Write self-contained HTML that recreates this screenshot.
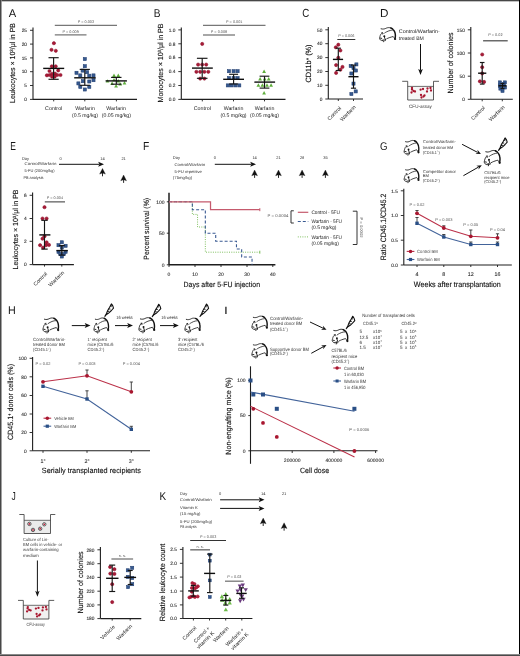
<!DOCTYPE html>
<html><head><meta charset="utf-8"><style>
html,body{margin:0;padding:0;background:#fff;width:520px;height:656px;overflow:hidden;}
svg{display:block;will-change:transform;}
text{font-family:"Liberation Sans",sans-serif;text-rendering:geometricPrecision;}
</style></head><body>
<svg width="520" height="656" viewBox="0 0 520 656">
<rect width="520" height="656" fill="#fff"/>
<defs>
<g id="mouse">
<g fill="none" stroke="#111" stroke-linecap="round" stroke-linejoin="round">
<path d="M2.0,1.9 C3.0,2.2 3.8,2.2 4.4,2.1 C5.2,2.0 5.7,1.8 6.3,1.55 C7.0,1.2 7.6,0.9 8.2,0.78 C8.9,0.62 9.5,0.62 10.1,0.7 C10.7,0.8 11.2,0.95 11.7,1.16" stroke-width="0.85"/>
<path d="M11.2,0.95 C12.3,1.4 13.1,2.0 13.6,2.7 C14.2,3.4 14.5,4.0 14.8,4.6 C15.2,5.4 15.4,6.1 15.5,6.9 C15.65,7.7 15.7,8.4 15.7,9.2 C15.7,9.9 15.6,10.6 15.5,11.4" stroke-width="1.4"/>
<path d="M5.5,6.2 C6.1,5.7 6.8,5.3 7.4,5.0 C8.1,4.6 8.8,4.3 9.4,4.05 C10.0,3.8 10.7,3.6 11.3,3.5 C11.8,3.4 12.3,3.3 12.8,3.3" stroke-width="0.75"/>
<path d="M3.4,6.1 C2.7,6.6 2.1,7.1 1.7,7.7 C1.3,8.4 1.1,9.2 0.9,10.0 C0.7,10.7 0.5,11.3 0.5,11.9 C0.6,12.6 0.9,13.1 1.3,13.5 C1.8,13.9 2.3,14.05 2.8,14.05" stroke-width="0.8"/>
<path d="M2.4,6.0 C3.0,5.7 3.7,6.0 4.0,6.6 C4.2,7.1 3.8,7.4 3.3,7.3" stroke-width="0.7"/>
<path d="M7.4,12.3 C8.2,11.9 9.0,11.5 9.75,11.2 C10.5,10.9 11.3,10.6 12.1,10.4 C12.6,10.2 13.1,10.1 13.6,10.0 C14.1,10.6 14.5,11.2 14.8,11.9" stroke-width="0.8"/>
<path d="M5.1,10.4 L5.9,12.7 M4.8,13.2 L4.5,15.4 M6.2,13.0 L5.9,14.3 M3.6,13.6 L3.4,14.4 M1.2,11.6 L2.6,11.9" stroke-width="0.9"/>
</g>
<circle cx="5.1" cy="9.6" r="0.95" fill="#111"/>
<circle cx="15.4" cy="12.5" r="1.1" fill="#111"/>
</g>
<g id="syr">
<path d="M0,0 L1.6,-2.8 L2.8,-5.8 L4.6,-8.8 L6.5,-12.4 L7.9,-10.4 L8.6,-8.1 L6.5,-5.8 L4.0,-3.4 L1.6,-1.8 Z" fill="none" stroke="#111" stroke-width="1.1" stroke-linejoin="round"/>
<path d="M0,0 L1.6,-2.8 L4.0,-3.4 L1.6,-1.8 Z" fill="#111"/>
<path d="M2.4,-4.8 L4.4,-5.0 M3.6,-7.4 L5.6,-7.2 M5.4,-10.2 L6.8,-9.6" stroke="#111" stroke-width="0.9"/>
<circle cx="6.6" cy="-11.6" r="0.75" fill="#111"/>
</g>
</defs>
<text transform="translate(8.78,16.90) scale(0.997,1)" font-size="11.19" fill="#161616">A</text>
<line x1="33.00" y1="27.50" x2="33.00" y2="99.40" stroke="#1e1e1e" stroke-width="1.1"/>
<line x1="30.00" y1="30.30" x2="33.00" y2="30.30" stroke="#1e1e1e" stroke-width="0.9"/>
<text transform="translate(27.00,30.30) scale(0.25)" y="6.91" font-size="19.20" fill="#2e2e2e" text-anchor="end" stroke="#2e2e2e" stroke-width="0.40">25</text>
<line x1="30.00" y1="44.10" x2="33.00" y2="44.10" stroke="#1e1e1e" stroke-width="0.9"/>
<text transform="translate(27.00,44.10) scale(0.25)" y="6.91" font-size="19.20" fill="#2e2e2e" text-anchor="end" stroke="#2e2e2e" stroke-width="0.40">20</text>
<line x1="30.00" y1="57.90" x2="33.00" y2="57.90" stroke="#1e1e1e" stroke-width="0.9"/>
<text transform="translate(27.00,57.90) scale(0.25)" y="6.91" font-size="19.20" fill="#2e2e2e" text-anchor="end" stroke="#2e2e2e" stroke-width="0.40">15</text>
<line x1="30.00" y1="71.70" x2="33.00" y2="71.70" stroke="#1e1e1e" stroke-width="0.9"/>
<text transform="translate(27.00,71.70) scale(0.25)" y="6.91" font-size="19.20" fill="#2e2e2e" text-anchor="end" stroke="#2e2e2e" stroke-width="0.40">10</text>
<line x1="30.00" y1="85.50" x2="33.00" y2="85.50" stroke="#1e1e1e" stroke-width="0.9"/>
<text transform="translate(27.00,85.50) scale(0.25)" y="6.91" font-size="19.20" fill="#2e2e2e" text-anchor="end" stroke="#2e2e2e" stroke-width="0.40">5</text>
<line x1="30.00" y1="99.40" x2="33.00" y2="99.40" stroke="#1e1e1e" stroke-width="0.9"/>
<text transform="translate(27.00,99.40) scale(0.25)" y="6.91" font-size="19.20" fill="#2e2e2e" text-anchor="end" stroke="#2e2e2e" stroke-width="0.40">0</text>
<line x1="33.00" y1="99.40" x2="137.00" y2="99.40" stroke="#1e1e1e" stroke-width="1.1"/>
<line x1="53.70" y1="99.40" x2="53.70" y2="101.40" stroke="#1e1e1e" stroke-width="0.9"/>
<line x1="84.80" y1="99.40" x2="84.80" y2="101.40" stroke="#1e1e1e" stroke-width="0.9"/>
<line x1="116.40" y1="99.40" x2="116.40" y2="101.40" stroke="#1e1e1e" stroke-width="0.9"/>
<text transform="translate(12.80,63.00) rotate(-90) scale(0.25)" y="10.66" font-size="29.60" fill="#111" text-anchor="middle" textLength="320.00" lengthAdjust="spacingAndGlyphs" stroke="#111" stroke-width="0.48">Leukocytes × 10<tspan dy="-8.80" font-size="18.00">3</tspan><tspan dy="8.80">/μl in PB</tspan></text>
<text transform="translate(53.70,108.20) rotate(0.03) scale(0.25)" y="7.63" font-size="21.20" fill="#222" text-anchor="middle" textLength="68.80" lengthAdjust="spacingAndGlyphs">Control</text>
<text transform="translate(85.00,108.20) rotate(0.03) scale(0.25)" y="7.63" font-size="21.20" fill="#222" text-anchor="middle" textLength="78.80" lengthAdjust="spacingAndGlyphs">Warfarin</text>
<text transform="translate(85.00,114.60) rotate(0.03) scale(0.25)" y="7.63" font-size="21.20" fill="#222" text-anchor="middle" textLength="104.40" lengthAdjust="spacingAndGlyphs">(0.5 mg/kg)</text>
<text transform="translate(116.20,108.20) rotate(0.03) scale(0.25)" y="7.63" font-size="21.20" fill="#222" text-anchor="middle" textLength="78.80" lengthAdjust="spacingAndGlyphs">Warfarin</text>
<text transform="translate(116.40,114.60) rotate(0.03) scale(0.25)" y="7.63" font-size="21.20" fill="#222" text-anchor="middle" textLength="116.80" lengthAdjust="spacingAndGlyphs">(0.05 mg/kg)</text>
<line x1="54.80" y1="34.80" x2="86.50" y2="34.80" stroke="#777" stroke-width="1.3"/>
<text transform="translate(70.65,31.60) rotate(0.03) scale(0.25)" y="5.47" font-size="15.20" fill="#585858" text-anchor="middle">P = 0.009</text>
<line x1="54.80" y1="25.30" x2="117.00" y2="25.30" stroke="#777" stroke-width="1.3"/>
<text transform="translate(85.90,22.00) rotate(0.03) scale(0.25)" y="5.47" font-size="15.20" fill="#585858" text-anchor="middle">P = 0.003</text>
<circle cx="53.90" cy="43.20" r="1.60" fill="#a81b38" stroke="#8c0b25" stroke-width="0.55"/>
<circle cx="51.50" cy="49.80" r="1.60" fill="#a81b38" stroke="#8c0b25" stroke-width="0.55"/>
<circle cx="55.80" cy="50.80" r="1.60" fill="#a81b38" stroke="#8c0b25" stroke-width="0.55"/>
<circle cx="51.80" cy="66.30" r="1.60" fill="#a81b38" stroke="#8c0b25" stroke-width="0.55"/>
<circle cx="55.70" cy="66.30" r="1.60" fill="#a81b38" stroke="#8c0b25" stroke-width="0.55"/>
<circle cx="49.50" cy="71.00" r="1.60" fill="#a81b38" stroke="#8c0b25" stroke-width="0.55"/>
<circle cx="58.20" cy="70.40" r="1.60" fill="#a81b38" stroke="#8c0b25" stroke-width="0.55"/>
<circle cx="46.90" cy="75.30" r="1.60" fill="#a81b38" stroke="#8c0b25" stroke-width="0.55"/>
<circle cx="49.50" cy="75.00" r="1.60" fill="#a81b38" stroke="#8c0b25" stroke-width="0.55"/>
<circle cx="52.10" cy="73.80" r="1.60" fill="#a81b38" stroke="#8c0b25" stroke-width="0.55"/>
<circle cx="55.00" cy="73.60" r="1.60" fill="#a81b38" stroke="#8c0b25" stroke-width="0.55"/>
<circle cx="52.10" cy="76.70" r="1.60" fill="#a81b38" stroke="#8c0b25" stroke-width="0.55"/>
<circle cx="54.70" cy="76.70" r="1.60" fill="#a81b38" stroke="#8c0b25" stroke-width="0.55"/>
<circle cx="57.30" cy="75.00" r="1.60" fill="#a81b38" stroke="#8c0b25" stroke-width="0.55"/>
<circle cx="60.50" cy="75.00" r="1.60" fill="#a81b38" stroke="#8c0b25" stroke-width="0.55"/>
<rect x="83.25" y="57.50" width="3.10" height="3.10" fill="#36598f" stroke="#1f3d70" stroke-width="0.55"/>
<rect x="83.25" y="64.65" width="3.10" height="3.10" fill="#36598f" stroke="#1f3d70" stroke-width="0.55"/>
<rect x="81.05" y="69.05" width="3.10" height="3.10" fill="#36598f" stroke="#1f3d70" stroke-width="0.55"/>
<rect x="85.55" y="70.65" width="3.10" height="3.10" fill="#36598f" stroke="#1f3d70" stroke-width="0.55"/>
<rect x="74.95" y="71.25" width="3.10" height="3.10" fill="#36598f" stroke="#1f3d70" stroke-width="0.55"/>
<rect x="78.75" y="73.85" width="3.10" height="3.10" fill="#36598f" stroke="#1f3d70" stroke-width="0.55"/>
<rect x="87.75" y="74.15" width="3.10" height="3.10" fill="#36598f" stroke="#1f3d70" stroke-width="0.55"/>
<rect x="91.95" y="73.85" width="3.10" height="3.10" fill="#36598f" stroke="#1f3d70" stroke-width="0.55"/>
<rect x="91.95" y="78.65" width="3.10" height="3.10" fill="#36598f" stroke="#1f3d70" stroke-width="0.55"/>
<rect x="81.35" y="79.65" width="3.10" height="3.10" fill="#36598f" stroke="#1f3d70" stroke-width="0.55"/>
<rect x="87.75" y="79.95" width="3.10" height="3.10" fill="#36598f" stroke="#1f3d70" stroke-width="0.55"/>
<rect x="76.85" y="81.85" width="3.10" height="3.10" fill="#36598f" stroke="#1f3d70" stroke-width="0.55"/>
<rect x="78.75" y="85.35" width="3.10" height="3.10" fill="#36598f" stroke="#1f3d70" stroke-width="0.55"/>
<rect x="87.75" y="85.35" width="3.10" height="3.10" fill="#36598f" stroke="#1f3d70" stroke-width="0.55"/>
<rect x="83.25" y="87.95" width="3.10" height="3.10" fill="#36598f" stroke="#1f3d70" stroke-width="0.55"/>
<path d="M114.00,73.59 L115.90,77.01 L112.10,77.01Z" fill="#5fae3c"/>
<path d="M118.30,73.59 L120.20,77.01 L116.40,77.01Z" fill="#5fae3c"/>
<path d="M114.00,77.89 L115.90,81.31 L112.10,81.31Z" fill="#5fae3c"/>
<path d="M118.30,78.99 L120.20,82.41 L116.40,82.41Z" fill="#5fae3c"/>
<path d="M107.50,79.19 L109.40,82.61 L105.60,82.61Z" fill="#5fae3c"/>
<path d="M112.10,81.59 L114.00,85.01 L110.20,85.01Z" fill="#5fae3c"/>
<path d="M120.20,82.19 L122.10,85.61 L118.30,85.61Z" fill="#5fae3c"/>
<path d="M124.50,81.09 L126.40,84.51 L122.60,84.51Z" fill="#5fae3c"/>
<path d="M116.10,84.09 L118.00,87.51 L114.20,87.51Z" fill="#5fae3c"/>
<text transform="translate(153.77,16.90) scale(0.895,1)" font-size="11.34" fill="#161616">B</text>
<line x1="181.30" y1="27.50" x2="181.30" y2="99.40" stroke="#1e1e1e" stroke-width="1.1"/>
<line x1="178.30" y1="29.90" x2="181.30" y2="29.90" stroke="#1e1e1e" stroke-width="0.9"/>
<text transform="translate(175.30,29.90) scale(0.25)" y="6.91" font-size="19.20" fill="#2e2e2e" text-anchor="end" stroke="#2e2e2e" stroke-width="0.40">1.0</text>
<line x1="178.30" y1="43.80" x2="181.30" y2="43.80" stroke="#1e1e1e" stroke-width="0.9"/>
<text transform="translate(175.30,43.80) scale(0.25)" y="6.91" font-size="19.20" fill="#2e2e2e" text-anchor="end" stroke="#2e2e2e" stroke-width="0.40">0.8</text>
<line x1="178.30" y1="57.70" x2="181.30" y2="57.70" stroke="#1e1e1e" stroke-width="0.9"/>
<text transform="translate(175.30,57.70) scale(0.25)" y="6.91" font-size="19.20" fill="#2e2e2e" text-anchor="end" stroke="#2e2e2e" stroke-width="0.40">0.6</text>
<line x1="178.30" y1="71.60" x2="181.30" y2="71.60" stroke="#1e1e1e" stroke-width="0.9"/>
<text transform="translate(175.30,71.60) scale(0.25)" y="6.91" font-size="19.20" fill="#2e2e2e" text-anchor="end" stroke="#2e2e2e" stroke-width="0.40">0.4</text>
<line x1="178.30" y1="85.50" x2="181.30" y2="85.50" stroke="#1e1e1e" stroke-width="0.9"/>
<text transform="translate(175.30,85.50) scale(0.25)" y="6.91" font-size="19.20" fill="#2e2e2e" text-anchor="end" stroke="#2e2e2e" stroke-width="0.40">0.2</text>
<line x1="178.30" y1="99.40" x2="181.30" y2="99.40" stroke="#1e1e1e" stroke-width="0.9"/>
<text transform="translate(175.30,99.40) scale(0.25)" y="6.91" font-size="19.20" fill="#2e2e2e" text-anchor="end" stroke="#2e2e2e" stroke-width="0.40">0.0</text>
<line x1="181.30" y1="99.40" x2="285.50" y2="99.40" stroke="#1e1e1e" stroke-width="1.1"/>
<line x1="202.30" y1="99.40" x2="202.30" y2="101.40" stroke="#1e1e1e" stroke-width="0.9"/>
<line x1="233.50" y1="99.40" x2="233.50" y2="101.40" stroke="#1e1e1e" stroke-width="0.9"/>
<line x1="264.50" y1="99.40" x2="264.50" y2="101.40" stroke="#1e1e1e" stroke-width="0.9"/>
<text transform="translate(160.50,63.00) rotate(-90) scale(0.25)" y="10.66" font-size="29.60" fill="#111" text-anchor="middle" textLength="316.00" lengthAdjust="spacingAndGlyphs" stroke="#111" stroke-width="0.48">Monocytes × 10<tspan dy="-8.80" font-size="18.00">3</tspan><tspan dy="8.80">/μl in PB</tspan></text>
<text transform="translate(202.30,108.20) rotate(0.03) scale(0.25)" y="7.63" font-size="21.20" fill="#222" text-anchor="middle" textLength="68.80" lengthAdjust="spacingAndGlyphs">Control</text>
<text transform="translate(233.50,108.20) rotate(0.03) scale(0.25)" y="7.63" font-size="21.20" fill="#222" text-anchor="middle" textLength="78.80" lengthAdjust="spacingAndGlyphs">Warfarin</text>
<text transform="translate(233.50,114.60) rotate(0.03) scale(0.25)" y="7.63" font-size="21.20" fill="#222" text-anchor="middle" textLength="104.40" lengthAdjust="spacingAndGlyphs">(0.5 mg/kg)</text>
<text transform="translate(264.50,108.20) rotate(0.03) scale(0.25)" y="7.63" font-size="21.20" fill="#222" text-anchor="middle" textLength="78.80" lengthAdjust="spacingAndGlyphs">Warfarin</text>
<text transform="translate(264.50,114.60) rotate(0.03) scale(0.25)" y="7.63" font-size="21.20" fill="#222" text-anchor="middle" textLength="116.80" lengthAdjust="spacingAndGlyphs">(0.05 mg/kg)</text>
<line x1="203.00" y1="35.00" x2="235.00" y2="35.00" stroke="#777" stroke-width="1.3"/>
<text transform="translate(219.00,31.60) rotate(0.03) scale(0.25)" y="5.47" font-size="15.20" fill="#585858" text-anchor="middle">P = 0.008</text>
<line x1="203.00" y1="25.30" x2="265.50" y2="25.30" stroke="#777" stroke-width="1.3"/>
<text transform="translate(234.25,22.00) rotate(0.03) scale(0.25)" y="5.47" font-size="15.20" fill="#585858" text-anchor="middle">P = 0.001</text>
<circle cx="202.20" cy="43.90" r="1.60" fill="#a81b38" stroke="#8c0b25" stroke-width="0.55"/>
<circle cx="198.10" cy="64.60" r="1.60" fill="#a81b38" stroke="#8c0b25" stroke-width="0.55"/>
<circle cx="202.20" cy="64.60" r="1.60" fill="#a81b38" stroke="#8c0b25" stroke-width="0.55"/>
<circle cx="206.20" cy="64.60" r="1.60" fill="#a81b38" stroke="#8c0b25" stroke-width="0.55"/>
<circle cx="196.40" cy="71.80" r="1.60" fill="#a81b38" stroke="#8c0b25" stroke-width="0.55"/>
<circle cx="200.20" cy="71.80" r="1.60" fill="#a81b38" stroke="#8c0b25" stroke-width="0.55"/>
<circle cx="204.40" cy="71.80" r="1.60" fill="#a81b38" stroke="#8c0b25" stroke-width="0.55"/>
<circle cx="208.30" cy="71.80" r="1.60" fill="#a81b38" stroke="#8c0b25" stroke-width="0.55"/>
<circle cx="200.20" cy="78.60" r="1.60" fill="#a81b38" stroke="#8c0b25" stroke-width="0.55"/>
<circle cx="204.40" cy="78.60" r="1.60" fill="#a81b38" stroke="#8c0b25" stroke-width="0.55"/>
<rect x="227.45" y="69.65" width="3.10" height="3.10" fill="#36598f" stroke="#1f3d70" stroke-width="0.55"/>
<rect x="232.05" y="69.65" width="3.10" height="3.10" fill="#36598f" stroke="#1f3d70" stroke-width="0.55"/>
<rect x="236.05" y="69.65" width="3.10" height="3.10" fill="#36598f" stroke="#1f3d70" stroke-width="0.55"/>
<rect x="227.45" y="76.55" width="3.10" height="3.10" fill="#36598f" stroke="#1f3d70" stroke-width="0.55"/>
<rect x="232.05" y="76.55" width="3.10" height="3.10" fill="#36598f" stroke="#1f3d70" stroke-width="0.55"/>
<rect x="236.05" y="76.55" width="3.10" height="3.10" fill="#36598f" stroke="#1f3d70" stroke-width="0.55"/>
<rect x="226.25" y="83.85" width="3.10" height="3.10" fill="#36598f" stroke="#1f3d70" stroke-width="0.55"/>
<rect x="229.75" y="83.85" width="3.10" height="3.10" fill="#36598f" stroke="#1f3d70" stroke-width="0.55"/>
<rect x="233.75" y="83.85" width="3.10" height="3.10" fill="#36598f" stroke="#1f3d70" stroke-width="0.55"/>
<rect x="237.75" y="83.85" width="3.10" height="3.10" fill="#36598f" stroke="#1f3d70" stroke-width="0.55"/>
<path d="M264.10,69.49 L266.00,72.91 L262.20,72.91Z" fill="#5fae3c"/>
<path d="M260.10,76.99 L262.00,80.41 L258.20,80.41Z" fill="#5fae3c"/>
<path d="M264.70,76.99 L266.60,80.41 L262.80,80.41Z" fill="#5fae3c"/>
<path d="M268.70,76.99 L270.60,80.41 L266.80,80.41Z" fill="#5fae3c"/>
<path d="M258.40,83.29 L260.30,86.71 L256.50,86.71Z" fill="#5fae3c"/>
<path d="M262.40,83.29 L264.30,86.71 L260.50,86.71Z" fill="#5fae3c"/>
<path d="M267.00,83.29 L268.90,86.71 L265.10,86.71Z" fill="#5fae3c"/>
<path d="M271.10,83.29 L273.00,86.71 L269.20,86.71Z" fill="#5fae3c"/>
<path d="M264.10,91.09 L266.00,94.51 L262.20,94.51Z" fill="#5fae3c"/>
<text transform="translate(302.31,17.28) scale(0.822,1)" font-size="11.72" fill="#161616">C</text>
<line x1="328.30" y1="27.00" x2="328.30" y2="99.00" stroke="#1e1e1e" stroke-width="1.1"/>
<line x1="325.30" y1="29.80" x2="328.30" y2="29.80" stroke="#1e1e1e" stroke-width="0.9"/>
<text transform="translate(322.30,29.80) scale(0.25)" y="6.91" font-size="19.20" fill="#2e2e2e" text-anchor="end" stroke="#2e2e2e" stroke-width="0.40">50</text>
<line x1="325.30" y1="43.70" x2="328.30" y2="43.70" stroke="#1e1e1e" stroke-width="0.9"/>
<text transform="translate(322.30,43.70) scale(0.25)" y="6.91" font-size="19.20" fill="#2e2e2e" text-anchor="end" stroke="#2e2e2e" stroke-width="0.40">40</text>
<line x1="325.30" y1="57.60" x2="328.30" y2="57.60" stroke="#1e1e1e" stroke-width="0.9"/>
<text transform="translate(322.30,57.60) scale(0.25)" y="6.91" font-size="19.20" fill="#2e2e2e" text-anchor="end" stroke="#2e2e2e" stroke-width="0.40">30</text>
<line x1="325.30" y1="71.50" x2="328.30" y2="71.50" stroke="#1e1e1e" stroke-width="0.9"/>
<text transform="translate(322.30,71.50) scale(0.25)" y="6.91" font-size="19.20" fill="#2e2e2e" text-anchor="end" stroke="#2e2e2e" stroke-width="0.40">20</text>
<line x1="325.30" y1="85.30" x2="328.30" y2="85.30" stroke="#1e1e1e" stroke-width="0.9"/>
<text transform="translate(322.30,85.30) scale(0.25)" y="6.91" font-size="19.20" fill="#2e2e2e" text-anchor="end" stroke="#2e2e2e" stroke-width="0.40">10</text>
<line x1="325.30" y1="99.00" x2="328.30" y2="99.00" stroke="#1e1e1e" stroke-width="0.9"/>
<text transform="translate(322.30,99.00) scale(0.25)" y="6.91" font-size="19.20" fill="#2e2e2e" text-anchor="end" stroke="#2e2e2e" stroke-width="0.40">0</text>
<line x1="328.30" y1="99.00" x2="363.00" y2="99.00" stroke="#1e1e1e" stroke-width="1.1"/>
<line x1="338.30" y1="99.00" x2="338.30" y2="101.00" stroke="#1e1e1e" stroke-width="0.9"/>
<line x1="353.50" y1="99.00" x2="353.50" y2="101.00" stroke="#1e1e1e" stroke-width="0.9"/>
<text transform="translate(308.40,63.50) rotate(-90) scale(0.25)" y="10.94" font-size="30.40" fill="#111" text-anchor="middle" textLength="152.00" lengthAdjust="spacingAndGlyphs" stroke="#111" stroke-width="0.48">CD11b<tspan dy="-8.80" font-size="18.00">+</tspan><tspan dy="8.80"> (%)</tspan></text>
<text transform="translate(340.30,107.20) rotate(-45) scale(0.25)" y="7.63" font-size="21.20" fill="#222" text-anchor="end" textLength="68.80" lengthAdjust="spacingAndGlyphs">Control</text>
<text transform="translate(354.80,106.20) rotate(-45) scale(0.25)" y="7.63" font-size="21.20" fill="#222" text-anchor="end" textLength="78.80" lengthAdjust="spacingAndGlyphs">Warfarin</text>
<line x1="337.30" y1="39.50" x2="355.30" y2="39.50" stroke="#333" stroke-width="1.0"/>
<text transform="translate(346.30,35.80) rotate(0.03) scale(0.25)" y="5.47" font-size="15.20" fill="#585858" text-anchor="middle">P = 0.006</text>
<circle cx="338.30" cy="44.70" r="1.60" fill="#a81b38" stroke="#8c0b25" stroke-width="0.55"/>
<circle cx="335.80" cy="47.30" r="1.60" fill="#a81b38" stroke="#8c0b25" stroke-width="0.55"/>
<circle cx="340.40" cy="50.50" r="1.60" fill="#a81b38" stroke="#8c0b25" stroke-width="0.55"/>
<circle cx="338.30" cy="57.70" r="1.60" fill="#a81b38" stroke="#8c0b25" stroke-width="0.55"/>
<circle cx="336.10" cy="65.10" r="1.60" fill="#a81b38" stroke="#8c0b25" stroke-width="0.55"/>
<circle cx="342.50" cy="66.90" r="1.60" fill="#a81b38" stroke="#8c0b25" stroke-width="0.55"/>
<circle cx="340.40" cy="69.70" r="1.60" fill="#a81b38" stroke="#8c0b25" stroke-width="0.55"/>
<circle cx="336.10" cy="72.90" r="1.60" fill="#a81b38" stroke="#8c0b25" stroke-width="0.55"/>
<rect x="354.85" y="62.85" width="3.10" height="3.10" fill="#36598f" stroke="#1f3d70" stroke-width="0.55"/>
<rect x="349.15" y="64.45" width="3.10" height="3.10" fill="#36598f" stroke="#1f3d70" stroke-width="0.55"/>
<rect x="351.95" y="66.55" width="3.10" height="3.10" fill="#36598f" stroke="#1f3d70" stroke-width="0.55"/>
<rect x="354.35" y="68.95" width="3.10" height="3.10" fill="#36598f" stroke="#1f3d70" stroke-width="0.55"/>
<rect x="349.85" y="71.95" width="3.10" height="3.10" fill="#36598f" stroke="#1f3d70" stroke-width="0.55"/>
<rect x="351.95" y="82.05" width="3.10" height="3.10" fill="#36598f" stroke="#1f3d70" stroke-width="0.55"/>
<rect x="354.15" y="89.85" width="3.10" height="3.10" fill="#36598f" stroke="#1f3d70" stroke-width="0.55"/>
<rect x="349.85" y="92.45" width="3.10" height="3.10" fill="#36598f" stroke="#1f3d70" stroke-width="0.55"/>
<text transform="translate(379.94,17.10) scale(1.002,1)" font-size="11.63" fill="#161616">D</text>
<use href="#mouse" transform="translate(379.00,27.00) scale(1.044,0.956)"/>
<text transform="translate(398.80,31.20) rotate(0.03) scale(0.25)" y="7.49" font-size="20.80" fill="#222" textLength="164.00" lengthAdjust="spacingAndGlyphs">Control/Warfarin-</text>
<text transform="translate(398.80,38.00) rotate(0.03) scale(0.25)" y="7.49" font-size="20.80" fill="#222" textLength="100.00" lengthAdjust="spacingAndGlyphs">treated BM</text>
<line x1="420.50" y1="44.00" x2="420.50" y2="70.00" stroke="#111" stroke-width="1.0"/>
<path d="M420.5,75 L418.2,69 L420.5,70.3 L422.8,69Z" fill="#111"/>
<rect x="407.70" y="86.40" width="25.80" height="13.60" fill="#f6f6f6"/>
<path d="M402.20,81.30 H407.70 V100.00 H433.50 V81.30 H439.00" stroke="#333" stroke-width="0.8" fill="none"/>
<line x1="407.70" y1="86.40" x2="433.50" y2="86.40" stroke="#333" stroke-width="0.7"/>
<circle cx="412.00" cy="89.50" r="1.15" fill="#a8162f"/>
<circle cx="413.50" cy="91.00" r="1.15" fill="#a8162f"/>
<circle cx="411.50" cy="92.50" r="1.15" fill="#a8162f"/>
<circle cx="415.00" cy="91.50" r="1.15" fill="#a8162f"/>
<circle cx="412.00" cy="88.00" r="1.15" fill="#a8162f"/>
<circle cx="420.60" cy="89.70" r="1.15" fill="#a8162f"/>
<circle cx="423.00" cy="89.00" r="1.15" fill="#a8162f"/>
<circle cx="427.50" cy="88.50" r="1.15" fill="#a8162f"/>
<circle cx="430.50" cy="88.00" r="1.15" fill="#a8162f"/>
<circle cx="427.00" cy="91.50" r="1.15" fill="#a8162f"/>
<circle cx="431.00" cy="90.50" r="1.15" fill="#a8162f"/>
<circle cx="421.00" cy="95.00" r="1.15" fill="#a8162f"/>
<circle cx="423.50" cy="96.50" r="1.15" fill="#a8162f"/>
<circle cx="421.50" cy="97.50" r="1.15" fill="#a8162f"/>
<circle cx="424.50" cy="95.50" r="1.15" fill="#a8162f"/>
<text transform="translate(420.40,106.00) rotate(0.03) scale(0.25)" y="6.91" font-size="19.20" fill="#333" text-anchor="middle" textLength="90.40" lengthAdjust="spacingAndGlyphs">CFU-assay</text>
<line x1="470.80" y1="27.00" x2="470.80" y2="99.30" stroke="#1e1e1e" stroke-width="1.1"/>
<line x1="467.80" y1="29.80" x2="470.80" y2="29.80" stroke="#1e1e1e" stroke-width="0.9"/>
<text transform="translate(464.80,29.80) scale(0.25)" y="6.91" font-size="19.20" fill="#2e2e2e" text-anchor="end" stroke="#2e2e2e" stroke-width="0.40">150</text>
<line x1="467.80" y1="53.00" x2="470.80" y2="53.00" stroke="#1e1e1e" stroke-width="0.9"/>
<text transform="translate(464.80,53.00) scale(0.25)" y="6.91" font-size="19.20" fill="#2e2e2e" text-anchor="end" stroke="#2e2e2e" stroke-width="0.40">100</text>
<line x1="467.80" y1="76.20" x2="470.80" y2="76.20" stroke="#1e1e1e" stroke-width="0.9"/>
<text transform="translate(464.80,76.20) scale(0.25)" y="6.91" font-size="19.20" fill="#2e2e2e" text-anchor="end" stroke="#2e2e2e" stroke-width="0.40">50</text>
<line x1="467.80" y1="99.30" x2="470.80" y2="99.30" stroke="#1e1e1e" stroke-width="0.9"/>
<text transform="translate(464.80,99.30) scale(0.25)" y="6.91" font-size="19.20" fill="#2e2e2e" text-anchor="end" stroke="#2e2e2e" stroke-width="0.40">0</text>
<line x1="470.80" y1="99.30" x2="512.80" y2="99.30" stroke="#1e1e1e" stroke-width="1.1"/>
<line x1="482.20" y1="99.30" x2="482.20" y2="101.30" stroke="#1e1e1e" stroke-width="0.9"/>
<line x1="502.30" y1="99.30" x2="502.30" y2="101.30" stroke="#1e1e1e" stroke-width="0.9"/>
<text transform="translate(449.80,63.00) rotate(-90) scale(0.25)" y="10.94" font-size="30.40" fill="#111" text-anchor="middle" textLength="244.00" lengthAdjust="spacingAndGlyphs" stroke="#111" stroke-width="0.48">Number of colonies</text>
<text transform="translate(484.00,106.90) rotate(-45) scale(0.25)" y="7.63" font-size="21.20" fill="#222" text-anchor="end" textLength="68.80" lengthAdjust="spacingAndGlyphs">Control</text>
<text transform="translate(503.70,106.30) rotate(-45) scale(0.25)" y="7.63" font-size="21.20" fill="#222" text-anchor="end" textLength="78.80" lengthAdjust="spacingAndGlyphs">Warfarin</text>
<line x1="483.10" y1="40.80" x2="507.70" y2="40.80" stroke="#444" stroke-width="1.2"/>
<text transform="translate(495.40,34.90) rotate(0.03) scale(0.25)" y="5.47" font-size="15.20" fill="#585858" text-anchor="middle">P = 0.02</text>
<circle cx="482.20" cy="54.50" r="1.60" fill="#a81b38" stroke="#8c0b25" stroke-width="0.55"/>
<circle cx="482.20" cy="67.20" r="1.60" fill="#a81b38" stroke="#8c0b25" stroke-width="0.55"/>
<circle cx="482.20" cy="73.40" r="1.60" fill="#a81b38" stroke="#8c0b25" stroke-width="0.55"/>
<circle cx="479.90" cy="81.30" r="1.60" fill="#a81b38" stroke="#8c0b25" stroke-width="0.55"/>
<circle cx="484.10" cy="81.90" r="1.60" fill="#a81b38" stroke="#8c0b25" stroke-width="0.55"/>
<rect x="498.35" y="80.85" width="3.10" height="3.10" fill="#36598f" stroke="#1f3d70" stroke-width="0.55"/>
<rect x="503.35" y="80.85" width="3.10" height="3.10" fill="#36598f" stroke="#1f3d70" stroke-width="0.55"/>
<rect x="498.35" y="84.25" width="3.10" height="3.10" fill="#36598f" stroke="#1f3d70" stroke-width="0.55"/>
<rect x="503.35" y="85.95" width="3.10" height="3.10" fill="#36598f" stroke="#1f3d70" stroke-width="0.55"/>
<rect x="500.95" y="89.35" width="3.10" height="3.10" fill="#36598f" stroke="#1f3d70" stroke-width="0.55"/>
<rect x="498.85" y="87.05" width="3.10" height="3.10" fill="#36598f" stroke="#1f3d70" stroke-width="0.55"/>
<rect x="502.25" y="82.55" width="3.10" height="3.10" fill="#36598f" stroke="#1f3d70" stroke-width="0.55"/>
<text transform="translate(10.20,149.80) scale(0.730,1)" font-size="11.63" fill="#161616">E</text>
<text transform="translate(21.90,158.50) rotate(0.03) scale(0.25)" y="5.76" font-size="16.00" fill="#333">Day</text>
<text transform="translate(60.70,158.50) scale(0.25)" y="5.76" font-size="16.00" fill="#333" text-anchor="middle">0</text>
<text transform="translate(102.50,158.50) scale(0.25)" y="5.76" font-size="16.00" fill="#333" text-anchor="middle">14</text>
<text transform="translate(123.60,158.50) scale(0.25)" y="5.76" font-size="16.00" fill="#333" text-anchor="middle">21</text>
<text transform="translate(24.50,163.90) rotate(0.03) scale(0.25)" y="5.76" font-size="16.00" fill="#333" textLength="127.60" lengthAdjust="spacingAndGlyphs">Control/Warfarin</text>
<line x1="59.00" y1="164.30" x2="99.20" y2="164.30" stroke="#111" stroke-width="1.0"/>
<path d="M104.00,164.30 L98.20,161.80 L99.40,164.30 L98.20,166.80Z" fill="#111"/>
<text transform="translate(24.50,171.00) rotate(0.03) scale(0.25)" y="5.76" font-size="16.00" fill="#333" textLength="120.40" lengthAdjust="spacingAndGlyphs">5-FU (200mg/kg)</text>
<text transform="translate(23.40,177.20) rotate(0.03) scale(0.25)" y="5.76" font-size="16.00" fill="#333" textLength="80.00" lengthAdjust="spacingAndGlyphs">PB analysis</text>
<path d="M102.50,168.40 L105.40,174.10 L102.50,173.10 L99.60,174.10Z" fill="#111" stroke="#111" stroke-width="0.3" stroke-linejoin="round"/>
<line x1="102.50" y1="172.60" x2="102.50" y2="176.30" stroke="#111" stroke-width="0.9"/>
<path d="M123.60,175.00 L126.50,180.70 L123.60,179.70 L120.70,180.70Z" fill="#111" stroke="#111" stroke-width="0.3" stroke-linejoin="round"/>
<line x1="123.60" y1="179.20" x2="123.60" y2="182.90" stroke="#111" stroke-width="0.9"/>
<line x1="32.60" y1="192.60" x2="32.60" y2="264.60" stroke="#1e1e1e" stroke-width="1.1"/>
<line x1="29.60" y1="195.30" x2="32.60" y2="195.30" stroke="#1e1e1e" stroke-width="0.9"/>
<text transform="translate(26.60,195.30) scale(0.25)" y="6.91" font-size="19.20" fill="#2e2e2e" text-anchor="end" stroke="#2e2e2e" stroke-width="0.40">6</text>
<line x1="29.60" y1="218.50" x2="32.60" y2="218.50" stroke="#1e1e1e" stroke-width="0.9"/>
<text transform="translate(26.60,218.50) scale(0.25)" y="6.91" font-size="19.20" fill="#2e2e2e" text-anchor="end" stroke="#2e2e2e" stroke-width="0.40">4</text>
<line x1="29.60" y1="241.30" x2="32.60" y2="241.30" stroke="#1e1e1e" stroke-width="0.9"/>
<text transform="translate(26.60,241.30) scale(0.25)" y="6.91" font-size="19.20" fill="#2e2e2e" text-anchor="end" stroke="#2e2e2e" stroke-width="0.40">2</text>
<line x1="29.60" y1="264.60" x2="32.60" y2="264.60" stroke="#1e1e1e" stroke-width="0.9"/>
<text transform="translate(26.60,264.60) scale(0.25)" y="6.91" font-size="19.20" fill="#2e2e2e" text-anchor="end" stroke="#2e2e2e" stroke-width="0.40">0</text>
<line x1="32.60" y1="264.60" x2="73.90" y2="264.60" stroke="#1e1e1e" stroke-width="1.1"/>
<line x1="44.50" y1="264.60" x2="44.50" y2="266.60" stroke="#1e1e1e" stroke-width="0.9"/>
<line x1="61.80" y1="264.60" x2="61.80" y2="266.60" stroke="#1e1e1e" stroke-width="0.9"/>
<text transform="translate(15.60,229.50) rotate(-90) scale(0.25)" y="10.66" font-size="29.60" fill="#111" text-anchor="middle" textLength="320.00" lengthAdjust="spacingAndGlyphs" stroke="#111" stroke-width="0.48">Leukocytes × 10<tspan dy="-8.80" font-size="18.00">3</tspan><tspan dy="8.80">/μl in PB</tspan></text>
<text transform="translate(46.30,272.80) rotate(-45) scale(0.25)" y="7.63" font-size="21.20" fill="#222" text-anchor="end" textLength="68.80" lengthAdjust="spacingAndGlyphs">Control</text>
<text transform="translate(63.10,271.80) rotate(-45) scale(0.25)" y="7.63" font-size="21.20" fill="#222" text-anchor="end" textLength="78.80" lengthAdjust="spacingAndGlyphs">Warfarin</text>
<line x1="44.80" y1="201.90" x2="65.00" y2="201.90" stroke="#333" stroke-width="1.0"/>
<text transform="translate(54.90,198.10) rotate(0.03) scale(0.25)" y="5.47" font-size="15.20" fill="#585858" text-anchor="middle">P = 0.004</text>
<circle cx="44.50" cy="207.20" r="1.60" fill="#a81b38" stroke="#8c0b25" stroke-width="0.55"/>
<circle cx="42.50" cy="218.50" r="1.60" fill="#a81b38" stroke="#8c0b25" stroke-width="0.55"/>
<circle cx="46.60" cy="218.50" r="1.60" fill="#a81b38" stroke="#8c0b25" stroke-width="0.55"/>
<circle cx="44.50" cy="236.30" r="1.60" fill="#a81b38" stroke="#8c0b25" stroke-width="0.55"/>
<circle cx="42.50" cy="238.70" r="1.60" fill="#a81b38" stroke="#8c0b25" stroke-width="0.55"/>
<circle cx="46.60" cy="242.30" r="1.60" fill="#a81b38" stroke="#8c0b25" stroke-width="0.55"/>
<circle cx="40.10" cy="245.20" r="1.60" fill="#a81b38" stroke="#8c0b25" stroke-width="0.55"/>
<circle cx="49.00" cy="244.90" r="1.60" fill="#a81b38" stroke="#8c0b25" stroke-width="0.55"/>
<circle cx="43.10" cy="247.60" r="1.60" fill="#a81b38" stroke="#8c0b25" stroke-width="0.55"/>
<circle cx="46.00" cy="245.20" r="1.60" fill="#a81b38" stroke="#8c0b25" stroke-width="0.55"/>
<rect x="60.25" y="240.75" width="3.10" height="3.10" fill="#36598f" stroke="#1f3d70" stroke-width="0.55"/>
<rect x="56.95" y="243.65" width="3.10" height="3.10" fill="#36598f" stroke="#1f3d70" stroke-width="0.55"/>
<rect x="64.05" y="244.25" width="3.10" height="3.10" fill="#36598f" stroke="#1f3d70" stroke-width="0.55"/>
<rect x="60.25" y="246.05" width="3.10" height="3.10" fill="#36598f" stroke="#1f3d70" stroke-width="0.55"/>
<rect x="56.95" y="250.25" width="3.10" height="3.10" fill="#36598f" stroke="#1f3d70" stroke-width="0.55"/>
<rect x="64.05" y="250.25" width="3.10" height="3.10" fill="#36598f" stroke="#1f3d70" stroke-width="0.55"/>
<rect x="58.75" y="252.55" width="3.10" height="3.10" fill="#36598f" stroke="#1f3d70" stroke-width="0.55"/>
<rect x="62.25" y="252.55" width="3.10" height="3.10" fill="#36598f" stroke="#1f3d70" stroke-width="0.55"/>
<rect x="60.25" y="254.95" width="3.10" height="3.10" fill="#36598f" stroke="#1f3d70" stroke-width="0.55"/>
<text transform="translate(142.91,150.00) scale(0.879,1)" font-size="11.63" fill="#161616">F</text>
<text transform="translate(172.80,157.80) rotate(0.03) scale(0.25)" y="5.76" font-size="16.00" fill="#333">Day</text>
<text transform="translate(214.80,157.80) scale(0.25)" y="5.76" font-size="16.00" fill="#333" text-anchor="middle">0</text>
<text transform="translate(254.60,157.80) scale(0.25)" y="5.76" font-size="16.00" fill="#333" text-anchor="middle">14</text>
<path d="M254.60,170.00 L257.50,175.70 L254.60,174.70 L251.70,175.70Z" fill="#111" stroke="#111" stroke-width="0.3" stroke-linejoin="round"/>
<line x1="254.60" y1="174.20" x2="254.60" y2="177.90" stroke="#111" stroke-width="0.9"/>
<text transform="translate(278.50,157.80) scale(0.25)" y="5.76" font-size="16.00" fill="#333" text-anchor="middle">21</text>
<path d="M278.50,170.00 L281.40,175.70 L278.50,174.70 L275.60,175.70Z" fill="#111" stroke="#111" stroke-width="0.3" stroke-linejoin="round"/>
<line x1="278.50" y1="174.20" x2="278.50" y2="177.90" stroke="#111" stroke-width="0.9"/>
<text transform="translate(302.10,157.80) scale(0.25)" y="5.76" font-size="16.00" fill="#333" text-anchor="middle">28</text>
<path d="M302.10,170.00 L305.00,175.70 L302.10,174.70 L299.20,175.70Z" fill="#111" stroke="#111" stroke-width="0.3" stroke-linejoin="round"/>
<line x1="302.10" y1="174.20" x2="302.10" y2="177.90" stroke="#111" stroke-width="0.9"/>
<text transform="translate(325.40,157.80) scale(0.25)" y="5.76" font-size="16.00" fill="#333" text-anchor="middle">35</text>
<path d="M325.40,170.00 L328.30,175.70 L325.40,174.70 L322.50,175.70Z" fill="#111" stroke="#111" stroke-width="0.3" stroke-linejoin="round"/>
<line x1="325.40" y1="174.20" x2="325.40" y2="177.90" stroke="#111" stroke-width="0.9"/>
<text transform="translate(174.50,164.30) rotate(0.03) scale(0.25)" y="5.76" font-size="16.00" fill="#333" textLength="122.80" lengthAdjust="spacingAndGlyphs">Control/Warfarin</text>
<line x1="214.80" y1="164.30" x2="251.20" y2="164.30" stroke="#111" stroke-width="1.0"/>
<path d="M256.00,164.30 L250.20,161.80 L251.40,164.30 L250.20,166.80Z" fill="#111"/>
<text transform="translate(174.50,171.20) rotate(0.03) scale(0.25)" y="5.76" font-size="16.00" fill="#333" textLength="109.60" lengthAdjust="spacingAndGlyphs">5-FU repetitive</text>
<text transform="translate(172.80,177.60) rotate(0.03) scale(0.25)" y="5.76" font-size="16.00" fill="#333" textLength="77.60" lengthAdjust="spacingAndGlyphs">(75mg/kg)</text>
<line x1="169.00" y1="192.70" x2="169.00" y2="264.80" stroke="#1e1e1e" stroke-width="1.5"/>
<line x1="166.80" y1="201.80" x2="169.00" y2="201.80" stroke="#1e1e1e" stroke-width="0.9"/>
<text transform="translate(164.60,201.80) scale(0.25)" y="7.20" font-size="20.00" fill="#2e2e2e" text-anchor="end" stroke="#2e2e2e" stroke-width="0.40">100</text>
<line x1="166.80" y1="233.20" x2="169.00" y2="233.20" stroke="#1e1e1e" stroke-width="0.9"/>
<text transform="translate(164.60,233.20) scale(0.25)" y="7.20" font-size="20.00" fill="#2e2e2e" text-anchor="end" stroke="#2e2e2e" stroke-width="0.40">50</text>
<line x1="166.80" y1="264.80" x2="169.00" y2="264.80" stroke="#1e1e1e" stroke-width="0.9"/>
<text transform="translate(164.60,264.80) scale(0.25)" y="7.20" font-size="20.00" fill="#2e2e2e" text-anchor="end" stroke="#2e2e2e" stroke-width="0.40">0</text>
<line x1="169.00" y1="264.80" x2="275.40" y2="264.80" stroke="#1e1e1e" stroke-width="1.5"/>
<line x1="169.00" y1="264.80" x2="169.00" y2="267.00" stroke="#1e1e1e" stroke-width="0.9"/>
<text transform="translate(169.00,274.00) scale(0.25)" y="7.20" font-size="20.00" fill="#2e2e2e" text-anchor="middle" stroke="#2e2e2e" stroke-width="0.40">0</text>
<line x1="195.00" y1="264.80" x2="195.00" y2="267.00" stroke="#1e1e1e" stroke-width="0.9"/>
<text transform="translate(195.00,274.00) scale(0.25)" y="7.20" font-size="20.00" fill="#2e2e2e" text-anchor="middle" stroke="#2e2e2e" stroke-width="0.40">10</text>
<line x1="221.00" y1="264.80" x2="221.00" y2="267.00" stroke="#1e1e1e" stroke-width="0.9"/>
<text transform="translate(221.00,274.00) scale(0.25)" y="7.20" font-size="20.00" fill="#2e2e2e" text-anchor="middle" stroke="#2e2e2e" stroke-width="0.40">20</text>
<line x1="247.00" y1="264.80" x2="247.00" y2="267.00" stroke="#1e1e1e" stroke-width="0.9"/>
<text transform="translate(247.00,274.00) scale(0.25)" y="7.20" font-size="20.00" fill="#2e2e2e" text-anchor="middle" stroke="#2e2e2e" stroke-width="0.40">30</text>
<line x1="272.80" y1="264.80" x2="272.80" y2="267.00" stroke="#1e1e1e" stroke-width="0.9"/>
<text transform="translate(272.80,274.00) scale(0.25)" y="7.20" font-size="20.00" fill="#2e2e2e" text-anchor="middle" stroke="#2e2e2e" stroke-width="0.40">40</text>
<text transform="translate(146.70,228.80) rotate(-90) scale(0.25)" y="10.94" font-size="30.40" fill="#111" text-anchor="middle" textLength="247.20" lengthAdjust="spacingAndGlyphs" stroke="#111" stroke-width="0.48">Percent survival (%)</text>
<text transform="translate(221.80,284.40) rotate(0.03) scale(0.25)" y="10.94" font-size="30.40" fill="#111" text-anchor="middle" textLength="306.00" lengthAdjust="spacingAndGlyphs" stroke="#111" stroke-width="0.48">Days after 5-FU injection</text>
<path d="M169.00,201.80 H192.35 V214.40 H197.55 V227.00 H205.33 V252.20 H259.82" stroke="#7fbf5f" stroke-width="1.0" fill="none" stroke-dasharray="1,1.3"/>
<line x1="259.82" y1="250.70" x2="259.82" y2="253.70" stroke="#7fbf5f" stroke-width="1.0"/>
<path d="M169.00,201.80 H192.35 V209.68 H205.33 V233.30 H215.71 V241.18 H236.47 V249.05 H241.66 V256.93 H252.04 V264.80" stroke="#3a5a92" stroke-width="1.1" fill="none" stroke-dasharray="3,2"/>
<path d="M169.00,201.80 H210.52 V209.68 H259.82" stroke="#c55a6d" stroke-width="1.25" fill="none"/>
<line x1="259.82" y1="208.18" x2="259.82" y2="211.18" stroke="#c55a6d" stroke-width="1.0"/>
<text transform="translate(278.00,216.00) rotate(0.03) scale(0.25)" y="5.76" font-size="16.00" fill="#555" text-anchor="middle" textLength="84.00" lengthAdjust="spacingAndGlyphs">P = 0.0004</text>
<path d="M293.8,210.8 H291.0 V223.0 H293.8" stroke="#333" stroke-width="1.0" fill="none"/>
<line x1="297.80" y1="212.30" x2="308.30" y2="212.30" stroke="#c55a6d" stroke-width="1.2"/>
<text transform="translate(311.40,212.30) rotate(0.03) scale(0.25)" y="7.20" font-size="20.00" fill="#222" textLength="114.00" lengthAdjust="spacingAndGlyphs">Control - 5FU</text>
<line x1="297.80" y1="221.50" x2="308.30" y2="221.50" stroke="#3a5a92" stroke-width="1.1" stroke-dasharray="3,2"/>
<text transform="translate(311.40,221.30) rotate(0.03) scale(0.25)" y="7.20" font-size="20.00" fill="#222" textLength="122.00" lengthAdjust="spacingAndGlyphs">Warfarin - 5FU</text>
<text transform="translate(311.40,227.50) rotate(0.03) scale(0.25)" y="7.20" font-size="20.00" fill="#222" textLength="100.00" lengthAdjust="spacingAndGlyphs">(0.5 mg/kg)</text>
<line x1="297.80" y1="236.90" x2="308.30" y2="236.90" stroke="#7fbf5f" stroke-width="1.0" stroke-dasharray="1,1.3"/>
<text transform="translate(311.40,236.70) rotate(0.03) scale(0.25)" y="7.20" font-size="20.00" fill="#222" textLength="122.00" lengthAdjust="spacingAndGlyphs">Warfarin - 5FU</text>
<text transform="translate(311.40,243.00) rotate(0.03) scale(0.25)" y="7.20" font-size="20.00" fill="#222" textLength="110.00" lengthAdjust="spacingAndGlyphs">(0.05 mg/kg)</text>
<path d="M352.8,211.2 H357.0 V244.5 H352.8" stroke="#333" stroke-width="1.0" fill="none"/>
<text transform="translate(361.00,227.50) rotate(90) scale(0.25)" y="5.76" font-size="16.00" fill="#555" text-anchor="middle" textLength="80.00" lengthAdjust="spacingAndGlyphs">P = 0.0002</text>
<text transform="translate(380.12,149.59) scale(0.865,1)" font-size="11.16" fill="#161616">G</text>
<use href="#mouse" transform="translate(403.60,139.80) scale(0.969,1.000)"/>
<use href="#mouse" transform="translate(403.60,168.00) scale(0.969,0.956)"/>
<text transform="translate(422.80,141.90) rotate(0.03) scale(0.25)" y="6.05" font-size="16.80" fill="#333" textLength="132.80" lengthAdjust="spacingAndGlyphs">Control/Warfarin-</text>
<text transform="translate(422.80,147.10) rotate(0.03) scale(0.25)" y="6.05" font-size="16.80" fill="#333" textLength="121.60" lengthAdjust="spacingAndGlyphs">treated donor BM</text>
<text transform="translate(422.80,152.40) rotate(0.03) scale(0.25)" y="6.05" font-size="16.80" fill="#333" textLength="68.00" lengthAdjust="spacingAndGlyphs">(CD45.1<tspan dy="-6.00" font-size="12.00">+</tspan><tspan dy="6.00">)</tspan></text>
<text transform="translate(422.80,171.00) rotate(0.03) scale(0.25)" y="6.05" font-size="16.80" fill="#333" textLength="132.80" lengthAdjust="spacingAndGlyphs">Competitor donor</text>
<text transform="translate(422.80,175.80) rotate(0.03) scale(0.25)" y="6.05" font-size="16.80" fill="#333">BM</text>
<text transform="translate(422.80,180.80) rotate(0.03) scale(0.25)" y="6.05" font-size="16.80" fill="#333" textLength="68.00" lengthAdjust="spacingAndGlyphs">(CD45.2<tspan dy="-6.00" font-size="12.00">+</tspan><tspan dy="6.00">)</tspan></text>
<line x1="462.10" y1="144.30" x2="477.35" y2="152.25" stroke="#111" stroke-width="1.0"/>
<path d="M480.90,154.10 L475.45,153.74 L477.80,152.48 L477.48,149.84Z" fill="#111"/>
<line x1="463.40" y1="175.70" x2="478.33" y2="167.18" stroke="#111" stroke-width="1.0"/>
<path d="M481.80,165.20 L478.55,169.59 L478.76,166.93 L476.37,165.77Z" fill="#111"/>
<use href="#mouse" transform="translate(483.70,149.80) scale(1.038,1.038)"/>
<use href="#syr" transform="translate(498.60,150.30) scale(1.000)"/>
<text transform="translate(484.20,172.00) rotate(0.03) scale(0.25)" y="6.05" font-size="16.80" fill="#333" textLength="66.00" lengthAdjust="spacingAndGlyphs">C57BL/6</text>
<text transform="translate(484.20,177.00) rotate(0.03) scale(0.25)" y="6.05" font-size="16.80" fill="#333" textLength="101.20" lengthAdjust="spacingAndGlyphs">recipient mice</text>
<text transform="translate(484.20,181.90) rotate(0.03) scale(0.25)" y="6.05" font-size="16.80" fill="#333" textLength="68.00" lengthAdjust="spacingAndGlyphs">(CD45.2<tspan dy="-6.00" font-size="12.00">+</tspan><tspan dy="6.00">)</tspan></text>
<line x1="403.80" y1="188.80" x2="403.80" y2="265.00" stroke="#1e1e1e" stroke-width="1.1"/>
<line x1="400.80" y1="190.80" x2="403.80" y2="190.80" stroke="#1e1e1e" stroke-width="0.9"/>
<text transform="translate(397.80,190.80) scale(0.25)" y="6.91" font-size="19.20" fill="#2e2e2e" text-anchor="end" stroke="#2e2e2e" stroke-width="0.40">1.5</text>
<line x1="400.80" y1="215.50" x2="403.80" y2="215.50" stroke="#1e1e1e" stroke-width="0.9"/>
<text transform="translate(397.80,215.50) scale(0.25)" y="6.91" font-size="19.20" fill="#2e2e2e" text-anchor="end" stroke="#2e2e2e" stroke-width="0.40">1.0</text>
<line x1="400.80" y1="240.20" x2="403.80" y2="240.20" stroke="#1e1e1e" stroke-width="0.9"/>
<text transform="translate(397.80,240.20) scale(0.25)" y="6.91" font-size="19.20" fill="#2e2e2e" text-anchor="end" stroke="#2e2e2e" stroke-width="0.40">0.5</text>
<line x1="400.80" y1="265.00" x2="403.80" y2="265.00" stroke="#1e1e1e" stroke-width="0.9"/>
<text transform="translate(397.80,265.00) scale(0.25)" y="6.91" font-size="19.20" fill="#2e2e2e" text-anchor="end" stroke="#2e2e2e" stroke-width="0.40">0.0</text>
<line x1="403.80" y1="265.00" x2="511.80" y2="265.00" stroke="#1e1e1e" stroke-width="1.1"/>
<line x1="417.00" y1="265.00" x2="417.00" y2="267.00" stroke="#1e1e1e" stroke-width="0.9"/>
<text transform="translate(417.00,273.70) scale(0.25)" y="7.63" font-size="21.20" fill="#2e2e2e" text-anchor="middle" stroke="#2e2e2e" stroke-width="0.40">4</text>
<line x1="443.80" y1="265.00" x2="443.80" y2="267.00" stroke="#1e1e1e" stroke-width="0.9"/>
<text transform="translate(443.80,273.70) scale(0.25)" y="7.63" font-size="21.20" fill="#2e2e2e" text-anchor="middle" stroke="#2e2e2e" stroke-width="0.40">8</text>
<line x1="470.80" y1="265.00" x2="470.80" y2="267.00" stroke="#1e1e1e" stroke-width="0.9"/>
<text transform="translate(470.80,273.70) scale(0.25)" y="7.63" font-size="21.20" fill="#2e2e2e" text-anchor="middle" stroke="#2e2e2e" stroke-width="0.40">12</text>
<line x1="497.50" y1="265.00" x2="497.50" y2="267.00" stroke="#1e1e1e" stroke-width="0.9"/>
<text transform="translate(497.50,273.70) scale(0.25)" y="7.63" font-size="21.20" fill="#2e2e2e" text-anchor="middle" stroke="#2e2e2e" stroke-width="0.40">16</text>
<text transform="translate(382.80,226.90) rotate(-90) scale(0.25)" y="11.23" font-size="31.20" fill="#111" text-anchor="middle" textLength="266.80" lengthAdjust="spacingAndGlyphs" stroke="#111" stroke-width="0.48">Ratio CD45.1/CD45.2</text>
<text transform="translate(457.30,284.40) rotate(0.03) scale(0.25)" y="11.23" font-size="31.20" fill="#111" text-anchor="middle" textLength="348.00" lengthAdjust="spacingAndGlyphs" stroke="#111" stroke-width="0.48">Weeks after transplantation</text>
<line x1="417.00" y1="213.30" x2="417.00" y2="210.50" stroke="#333" stroke-width="0.9"/>
<line x1="415.40" y1="210.50" x2="418.60" y2="210.50" stroke="#333" stroke-width="0.9"/>
<line x1="417.00" y1="223.30" x2="417.00" y2="217.50" stroke="#333" stroke-width="0.9"/>
<line x1="415.40" y1="217.50" x2="418.60" y2="217.50" stroke="#333" stroke-width="0.9"/>
<line x1="443.80" y1="228.00" x2="443.80" y2="225.80" stroke="#333" stroke-width="0.9"/>
<line x1="442.20" y1="225.80" x2="445.40" y2="225.80" stroke="#333" stroke-width="0.9"/>
<line x1="443.80" y1="237.00" x2="443.80" y2="234.50" stroke="#333" stroke-width="0.9"/>
<line x1="442.20" y1="234.50" x2="445.40" y2="234.50" stroke="#333" stroke-width="0.9"/>
<line x1="470.80" y1="236.30" x2="470.80" y2="230.00" stroke="#333" stroke-width="0.9"/>
<line x1="469.20" y1="230.00" x2="472.40" y2="230.00" stroke="#333" stroke-width="0.9"/>
<line x1="470.80" y1="244.50" x2="470.80" y2="242.00" stroke="#333" stroke-width="0.9"/>
<line x1="469.20" y1="242.00" x2="472.40" y2="242.00" stroke="#333" stroke-width="0.9"/>
<line x1="497.50" y1="237.80" x2="497.50" y2="233.80" stroke="#333" stroke-width="0.9"/>
<line x1="495.90" y1="233.80" x2="499.10" y2="233.80" stroke="#333" stroke-width="0.9"/>
<line x1="497.50" y1="244.50" x2="497.50" y2="242.00" stroke="#333" stroke-width="0.9"/>
<line x1="495.90" y1="242.00" x2="499.10" y2="242.00" stroke="#333" stroke-width="0.9"/>
<path d="M417.00,223.30 L443.80,237.00 L470.80,244.50 L497.50,244.50" stroke="#42639a" stroke-width="1.05" fill="none"/>
<path d="M417.00,213.30 L443.80,228.00 L470.80,236.30 L497.50,237.80" stroke="#bb3048" stroke-width="1.05" fill="none"/>
<rect x="415.30" y="221.60" width="3.4" height="3.4" fill="#2a4f86"/>
<circle cx="417.00" cy="213.30" r="1.9" fill="#a8162f"/>
<rect x="442.10" y="235.30" width="3.4" height="3.4" fill="#2a4f86"/>
<circle cx="443.80" cy="228.00" r="1.9" fill="#a8162f"/>
<rect x="469.10" y="242.80" width="3.4" height="3.4" fill="#2a4f86"/>
<circle cx="470.80" cy="236.30" r="1.9" fill="#a8162f"/>
<rect x="495.80" y="242.80" width="3.4" height="3.4" fill="#2a4f86"/>
<circle cx="497.50" cy="237.80" r="1.9" fill="#a8162f"/>
<text transform="translate(417.00,205.00) rotate(0.03) scale(0.25)" y="5.76" font-size="16.00" fill="#555" text-anchor="middle">P = 0.02</text>
<text transform="translate(443.80,220.00) rotate(0.03) scale(0.25)" y="5.76" font-size="16.00" fill="#555" text-anchor="middle">P = 0.003</text>
<text transform="translate(470.80,224.60) rotate(0.03) scale(0.25)" y="5.76" font-size="16.00" fill="#555" text-anchor="middle">P = 0.05</text>
<text transform="translate(497.50,229.50) rotate(0.03) scale(0.25)" y="5.76" font-size="16.00" fill="#555" text-anchor="middle">P = 0.04</text>
<line x1="406.70" y1="251.40" x2="414.40" y2="251.40" stroke="#bb3048" stroke-width="1.1"/>
<circle cx="410.50" cy="251.40" r="1.75" fill="#a8162f"/>
<text transform="translate(417.10,251.40) rotate(0.03) scale(0.25)" y="6.48" font-size="18.00" fill="#444" textLength="82.80" lengthAdjust="spacingAndGlyphs">Control BM</text>
<line x1="406.70" y1="259.50" x2="414.40" y2="259.50" stroke="#42639a" stroke-width="1.1"/>
<rect x="408.90" y="257.90" width="3.2" height="3.2" fill="#2a4f86"/>
<text transform="translate(417.10,259.50) rotate(0.03) scale(0.25)" y="6.48" font-size="18.00" fill="#444" textLength="90.80" lengthAdjust="spacingAndGlyphs">Warfarin BM</text>
<text transform="translate(8.12,313.80) scale(0.947,1)" font-size="11.34" fill="#161616">H</text>
<use href="#mouse" transform="translate(42.40,317.30) scale(1.025,1.025)"/>
<line x1="71.80" y1="325.60" x2="85.70" y2="325.60" stroke="#111" stroke-width="1.0"/>
<path d="M90.50,325.60 L84.70,323.10 L85.90,325.60 L84.70,328.10Z" fill="#111"/>
<use href="#mouse" transform="translate(93.40,317.30) scale(0.963,1.025)"/>
<use href="#syr" transform="translate(104.90,316.30) scale(1.000)"/>
<text transform="translate(33.10,339.40) rotate(0.03) scale(0.25)" y="6.48" font-size="18.00" fill="#333" textLength="129.60" lengthAdjust="spacingAndGlyphs">Control/Warfarin-</text>
<text transform="translate(33.10,344.50) rotate(0.03) scale(0.25)" y="6.48" font-size="18.00" fill="#333" textLength="127.60" lengthAdjust="spacingAndGlyphs">treated donor BM</text>
<text transform="translate(33.10,349.60) rotate(0.03) scale(0.25)" y="6.48" font-size="18.00" fill="#333" textLength="70.80" lengthAdjust="spacingAndGlyphs">(CD45.1<tspan dy="-6.00" font-size="12.00">+</tspan><tspan dy="6.00">)</tspan></text>
<text transform="translate(87.60,339.40) rotate(0.03) scale(0.25)" y="6.48" font-size="18.00" fill="#333" textLength="77.20" lengthAdjust="spacingAndGlyphs">1<tspan dy="-6.00" font-size="12.00">°</tspan><tspan dy="6.00"> recipient</tspan></text>
<text transform="translate(87.60,344.60) rotate(0.03) scale(0.25)" y="6.48" font-size="18.00" fill="#333" textLength="103.20" lengthAdjust="spacingAndGlyphs">mice (C57BL/6</text>
<text transform="translate(87.60,349.60) rotate(0.03) scale(0.25)" y="6.48" font-size="18.00" fill="#333" textLength="67.20" lengthAdjust="spacingAndGlyphs">CD45.2<tspan dy="-6.00" font-size="12.00">+</tspan><tspan dy="6.00">)</tspan></text>
<text transform="translate(116.30,317.60) rotate(0.03) scale(0.25)" y="6.48" font-size="18.00" fill="#333" textLength="66.00" lengthAdjust="spacingAndGlyphs">16 weeks</text>
<line x1="115.00" y1="325.60" x2="128.20" y2="325.60" stroke="#111" stroke-width="1.0"/>
<path d="M133.00,325.60 L127.20,323.10 L128.40,325.60 L127.20,328.10Z" fill="#111"/>
<use href="#mouse" transform="translate(138.30,317.00) scale(1.031,1.031)"/>
<use href="#syr" transform="translate(152.20,316.70) scale(1.000)"/>
<text transform="translate(132.50,339.40) rotate(0.03) scale(0.25)" y="6.48" font-size="18.00" fill="#333" textLength="77.20" lengthAdjust="spacingAndGlyphs">2<tspan dy="-6.00" font-size="12.00">°</tspan><tspan dy="6.00"> recipient</tspan></text>
<text transform="translate(132.50,344.60) rotate(0.03) scale(0.25)" y="6.48" font-size="18.00" fill="#333" textLength="103.20" lengthAdjust="spacingAndGlyphs">mice (C57BL/6</text>
<text transform="translate(132.50,349.60) rotate(0.03) scale(0.25)" y="6.48" font-size="18.00" fill="#333" textLength="67.20" lengthAdjust="spacingAndGlyphs">CD45.2<tspan dy="-6.00" font-size="12.00">+</tspan><tspan dy="6.00">)</tspan></text>
<text transform="translate(161.30,317.60) rotate(0.03) scale(0.25)" y="6.48" font-size="18.00" fill="#333" textLength="66.00" lengthAdjust="spacingAndGlyphs">16 weeks</text>
<line x1="160.00" y1="325.60" x2="174.00" y2="325.60" stroke="#111" stroke-width="1.0"/>
<path d="M178.80,325.60 L173.00,323.10 L174.20,325.60 L173.00,328.10Z" fill="#111"/>
<use href="#mouse" transform="translate(184.30,317.50) scale(1.000,1.000)"/>
<use href="#syr" transform="translate(200.00,316.50) scale(1.000)"/>
<text transform="translate(178.00,339.40) rotate(0.03) scale(0.25)" y="6.48" font-size="18.00" fill="#333" textLength="77.20" lengthAdjust="spacingAndGlyphs">3<tspan dy="-6.00" font-size="12.00">°</tspan><tspan dy="6.00"> recipient</tspan></text>
<text transform="translate(178.00,344.60) rotate(0.03) scale(0.25)" y="6.48" font-size="18.00" fill="#333" textLength="103.20" lengthAdjust="spacingAndGlyphs">mice (C57BL/6</text>
<text transform="translate(178.00,349.60) rotate(0.03) scale(0.25)" y="6.48" font-size="18.00" fill="#333" textLength="67.20" lengthAdjust="spacingAndGlyphs">CD45.2<tspan dy="-6.00" font-size="12.00">+</tspan><tspan dy="6.00">)</tspan></text>
<line x1="32.60" y1="357.00" x2="32.60" y2="450.80" stroke="#1e1e1e" stroke-width="1.1"/>
<line x1="29.60" y1="358.30" x2="32.60" y2="358.30" stroke="#1e1e1e" stroke-width="0.9"/>
<text transform="translate(26.60,358.30) scale(0.25)" y="6.91" font-size="19.20" fill="#2e2e2e" text-anchor="end" stroke="#2e2e2e" stroke-width="0.40">100</text>
<line x1="29.60" y1="376.80" x2="32.60" y2="376.80" stroke="#1e1e1e" stroke-width="0.9"/>
<text transform="translate(26.60,376.80) scale(0.25)" y="6.91" font-size="19.20" fill="#2e2e2e" text-anchor="end" stroke="#2e2e2e" stroke-width="0.40">80</text>
<line x1="29.60" y1="395.50" x2="32.60" y2="395.50" stroke="#1e1e1e" stroke-width="0.9"/>
<text transform="translate(26.60,395.50) scale(0.25)" y="6.91" font-size="19.20" fill="#2e2e2e" text-anchor="end" stroke="#2e2e2e" stroke-width="0.40">60</text>
<line x1="29.60" y1="414.00" x2="32.60" y2="414.00" stroke="#1e1e1e" stroke-width="0.9"/>
<text transform="translate(26.60,414.00) scale(0.25)" y="6.91" font-size="19.20" fill="#2e2e2e" text-anchor="end" stroke="#2e2e2e" stroke-width="0.40">40</text>
<line x1="29.60" y1="432.50" x2="32.60" y2="432.50" stroke="#1e1e1e" stroke-width="0.9"/>
<text transform="translate(26.60,432.50) scale(0.25)" y="6.91" font-size="19.20" fill="#2e2e2e" text-anchor="end" stroke="#2e2e2e" stroke-width="0.40">20</text>
<line x1="29.60" y1="450.80" x2="32.60" y2="450.80" stroke="#1e1e1e" stroke-width="0.9"/>
<text transform="translate(26.60,450.80) scale(0.25)" y="6.91" font-size="19.20" fill="#2e2e2e" text-anchor="end" stroke="#2e2e2e" stroke-width="0.40">0</text>
<line x1="32.60" y1="450.80" x2="150.00" y2="450.80" stroke="#1e1e1e" stroke-width="1.1"/>
<line x1="43.00" y1="450.80" x2="43.00" y2="452.80" stroke="#1e1e1e" stroke-width="0.9"/>
<text transform="translate(43.00,460.60) scale(0.25)" y="7.63" font-size="21.20" fill="#2e2e2e" text-anchor="middle" stroke="#2e2e2e" stroke-width="0.40">1°</text>
<line x1="87.00" y1="450.80" x2="87.00" y2="452.80" stroke="#1e1e1e" stroke-width="0.9"/>
<text transform="translate(87.00,460.60) scale(0.25)" y="7.63" font-size="21.20" fill="#2e2e2e" text-anchor="middle" stroke="#2e2e2e" stroke-width="0.40">2°</text>
<line x1="131.30" y1="450.80" x2="131.30" y2="452.80" stroke="#1e1e1e" stroke-width="0.9"/>
<text transform="translate(131.30,460.60) scale(0.25)" y="7.63" font-size="21.20" fill="#2e2e2e" text-anchor="middle" stroke="#2e2e2e" stroke-width="0.40">3°</text>
<text transform="translate(10.60,402.00) rotate(-90) scale(0.25)" y="10.94" font-size="30.40" fill="#111" text-anchor="middle" textLength="304.00" lengthAdjust="spacingAndGlyphs" stroke="#111" stroke-width="0.48">CD45.1<tspan dy="-8.80" font-size="18.00">+</tspan><tspan dy="8.80"> donor cells (%)</tspan></text>
<text transform="translate(91.30,470.50) rotate(0.03) scale(0.25)" y="10.94" font-size="30.40" fill="#111" text-anchor="middle" textLength="396.00" lengthAdjust="spacingAndGlyphs" stroke="#111" stroke-width="0.48">Serially transplanted recipients</text>
<line x1="87.00" y1="375.80" x2="87.00" y2="370.00" stroke="#333" stroke-width="0.9"/>
<line x1="85.40" y1="370.00" x2="88.60" y2="370.00" stroke="#333" stroke-width="0.9"/>
<line x1="87.00" y1="399.00" x2="87.00" y2="390.80" stroke="#333" stroke-width="0.9"/>
<line x1="85.40" y1="390.80" x2="88.60" y2="390.80" stroke="#333" stroke-width="0.9"/>
<line x1="131.30" y1="391.80" x2="131.30" y2="382.00" stroke="#333" stroke-width="0.9"/>
<line x1="129.70" y1="382.00" x2="132.90" y2="382.00" stroke="#333" stroke-width="0.9"/>
<line x1="131.30" y1="429.30" x2="131.30" y2="426.30" stroke="#333" stroke-width="0.9"/>
<line x1="129.70" y1="426.30" x2="132.90" y2="426.30" stroke="#333" stroke-width="0.9"/>
<path d="M43.00,386.30 L87.00,399.00 L131.30,429.30" stroke="#42639a" stroke-width="1.05" fill="none"/>
<path d="M43.00,381.80 L87.00,375.80 L131.30,391.80" stroke="#bb3048" stroke-width="1.05" fill="none"/>
<rect x="41.30" y="384.60" width="3.4" height="3.4" fill="#2a4f86"/>
<circle cx="43.00" cy="381.80" r="1.9" fill="#a8162f"/>
<rect x="85.30" y="397.30" width="3.4" height="3.4" fill="#2a4f86"/>
<circle cx="87.00" cy="375.80" r="1.9" fill="#a8162f"/>
<rect x="129.60" y="427.60" width="3.4" height="3.4" fill="#2a4f86"/>
<circle cx="131.30" cy="391.80" r="1.9" fill="#a8162f"/>
<text transform="translate(43.00,363.30) rotate(0.03) scale(0.25)" y="5.76" font-size="16.00" fill="#555" text-anchor="middle">P = 0.02</text>
<text transform="translate(87.00,363.30) rotate(0.03) scale(0.25)" y="5.76" font-size="16.00" fill="#555" text-anchor="middle">P = 0.003</text>
<text transform="translate(131.30,363.30) rotate(0.03) scale(0.25)" y="5.76" font-size="16.00" fill="#555" text-anchor="middle">P = 0.004</text>
<line x1="43.50" y1="418.20" x2="51.20" y2="418.20" stroke="#bb3048" stroke-width="1.1"/>
<circle cx="47.30" cy="418.20" r="1.75" fill="#a8162f"/>
<text transform="translate(54.20,418.20) rotate(0.03) scale(0.25)" y="6.48" font-size="18.00" fill="#444" textLength="78.40" lengthAdjust="spacingAndGlyphs">Vehicle BM</text>
<line x1="43.50" y1="426.20" x2="51.20" y2="426.20" stroke="#42639a" stroke-width="1.1"/>
<rect x="45.70" y="424.60" width="3.2" height="3.2" fill="#2a4f86"/>
<text transform="translate(54.20,426.20) rotate(0.03) scale(0.25)" y="6.48" font-size="18.00" fill="#444" textLength="88.00" lengthAdjust="spacingAndGlyphs">Warfarin BM</text>
<text transform="translate(224.03,314.00) scale(1.322,1)" font-size="10.47" fill="#161616">I</text>
<use href="#mouse" transform="translate(251.30,315.50) scale(1.012,0.981)"/>
<use href="#mouse" transform="translate(251.30,343.00) scale(1.012,0.981)"/>
<text transform="translate(270.00,318.50) rotate(0.03) scale(0.25)" y="6.62" font-size="18.40" fill="#333" textLength="132.00" lengthAdjust="spacingAndGlyphs">Control/Warfarin-</text>
<text transform="translate(270.00,323.70) rotate(0.03) scale(0.25)" y="6.62" font-size="18.40" fill="#333" textLength="129.20" lengthAdjust="spacingAndGlyphs">treated donor BM</text>
<text transform="translate(270.00,329.10) rotate(0.03) scale(0.25)" y="6.62" font-size="18.40" fill="#333" textLength="71.60" lengthAdjust="spacingAndGlyphs">(CD45.1<tspan dy="-6.00" font-size="12.00">+</tspan><tspan dy="6.00">)</tspan></text>
<text transform="translate(270.00,349.00) rotate(0.03) scale(0.25)" y="6.62" font-size="18.40" fill="#333" textLength="156.00" lengthAdjust="spacingAndGlyphs">Supportive donor BM</text>
<text transform="translate(270.00,353.80) rotate(0.03) scale(0.25)" y="6.62" font-size="18.40" fill="#333" textLength="71.60" lengthAdjust="spacingAndGlyphs">(CD45.2<tspan dy="-6.00" font-size="12.00">+</tspan><tspan dy="6.00">)</tspan></text>
<line x1="310.00" y1="322.00" x2="322.88" y2="328.09" stroke="#111" stroke-width="1.0"/>
<path d="M326.50,329.80 L321.04,329.65 L323.34,328.30 L322.92,325.67Z" fill="#111"/>
<line x1="311.30" y1="353.30" x2="322.99" y2="346.92" stroke="#111" stroke-width="1.0"/>
<path d="M326.50,345.00 L323.17,349.33 L323.43,346.68 L321.06,345.47Z" fill="#111"/>
<use href="#mouse" transform="translate(331.70,328.60) scale(1.019,1.000)"/>
<use href="#syr" transform="translate(346.20,328.70) scale(1.000)"/>
<text transform="translate(331.40,350.70) rotate(0.03) scale(0.25)" y="6.62" font-size="18.40" fill="#333" textLength="61.60" lengthAdjust="spacingAndGlyphs">C57BL/6</text>
<text transform="translate(331.40,356.00) rotate(0.03) scale(0.25)" y="6.62" font-size="18.40" fill="#333" textLength="103.60" lengthAdjust="spacingAndGlyphs">recipient mice</text>
<text transform="translate(331.40,361.10) rotate(0.03) scale(0.25)" y="6.62" font-size="18.40" fill="#333" textLength="71.60" lengthAdjust="spacingAndGlyphs">(CD45.2<tspan dy="-6.00" font-size="12.00">+</tspan><tspan dy="6.00">)</tspan></text>
<text transform="translate(362.20,315.10) rotate(0.03) scale(0.25)" y="6.62" font-size="18.40" fill="#333" textLength="210.40" lengthAdjust="spacingAndGlyphs">Number of transplanted cells</text>
<text transform="translate(363.10,323.40) rotate(0.03) scale(0.25)" y="6.62" font-size="18.40" fill="#333" textLength="59.20" lengthAdjust="spacingAndGlyphs">CD45.1<tspan dy="-6.00" font-size="10.00">M</tspan><tspan dy="6.00"></tspan></text>
<text transform="translate(401.50,323.40) rotate(0.03) scale(0.25)" y="6.62" font-size="18.40" fill="#333" textLength="60.40" lengthAdjust="spacingAndGlyphs">CD45.2<tspan dy="-6.00" font-size="10.00">M</tspan><tspan dy="6.00"></tspan></text>
<text transform="translate(359.40,331.40) scale(0.25)" y="6.62" font-size="18.40" fill="#333">5</text>
<text transform="translate(373.00,331.40) rotate(0.03) scale(0.25)" y="6.62" font-size="18.40" fill="#333" textLength="35.20" lengthAdjust="spacingAndGlyphs">x10<tspan dy="-6.00" font-size="11.20">5</tspan><tspan dy="6.00"></tspan></text>
<text transform="translate(400.10,331.40) scale(0.25)" y="6.62" font-size="18.40" fill="#333">5</text>
<text transform="translate(405.00,331.40) rotate(0.03) scale(0.25)" y="6.62" font-size="18.40" fill="#333">x</text>
<text transform="translate(409.50,331.40) rotate(0.03) scale(0.25)" y="6.62" font-size="18.40" fill="#333" textLength="27.20" lengthAdjust="spacingAndGlyphs">10<tspan dy="-6.00" font-size="11.20">5</tspan><tspan dy="6.00"></tspan></text>
<text transform="translate(359.40,337.00) scale(0.25)" y="6.62" font-size="18.40" fill="#333">12.5</text>
<text transform="translate(373.00,337.00) rotate(0.03) scale(0.25)" y="6.62" font-size="18.40" fill="#333" textLength="35.20" lengthAdjust="spacingAndGlyphs">x10<tspan dy="-6.00" font-size="11.20">4</tspan><tspan dy="6.00"></tspan></text>
<text transform="translate(400.10,337.00) scale(0.25)" y="6.62" font-size="18.40" fill="#333">5</text>
<text transform="translate(405.00,337.00) rotate(0.03) scale(0.25)" y="6.62" font-size="18.40" fill="#333">x</text>
<text transform="translate(409.50,337.00) rotate(0.03) scale(0.25)" y="6.62" font-size="18.40" fill="#333" textLength="27.20" lengthAdjust="spacingAndGlyphs">10<tspan dy="-6.00" font-size="11.20">5</tspan><tspan dy="6.00"></tspan></text>
<text transform="translate(359.40,341.90) scale(0.25)" y="6.62" font-size="18.40" fill="#333">6</text>
<text transform="translate(373.00,341.90) rotate(0.03) scale(0.25)" y="6.62" font-size="18.40" fill="#333" textLength="35.20" lengthAdjust="spacingAndGlyphs">x10<tspan dy="-6.00" font-size="11.20">4</tspan><tspan dy="6.00"></tspan></text>
<text transform="translate(400.10,341.90) scale(0.25)" y="6.62" font-size="18.40" fill="#333">5</text>
<text transform="translate(405.00,341.90) rotate(0.03) scale(0.25)" y="6.62" font-size="18.40" fill="#333">x</text>
<text transform="translate(409.50,341.90) rotate(0.03) scale(0.25)" y="6.62" font-size="18.40" fill="#333" textLength="27.20" lengthAdjust="spacingAndGlyphs">10<tspan dy="-6.00" font-size="11.20">5</tspan><tspan dy="6.00"></tspan></text>
<text transform="translate(359.40,347.20) scale(0.25)" y="6.62" font-size="18.40" fill="#333">1.5</text>
<text transform="translate(373.00,347.20) rotate(0.03) scale(0.25)" y="6.62" font-size="18.40" fill="#333" textLength="35.20" lengthAdjust="spacingAndGlyphs">x10<tspan dy="-6.00" font-size="11.20">4</tspan><tspan dy="6.00"></tspan></text>
<text transform="translate(400.10,347.20) scale(0.25)" y="6.62" font-size="18.40" fill="#333">5</text>
<text transform="translate(405.00,347.20) rotate(0.03) scale(0.25)" y="6.62" font-size="18.40" fill="#333">x</text>
<text transform="translate(409.50,347.20) rotate(0.03) scale(0.25)" y="6.62" font-size="18.40" fill="#333" textLength="27.20" lengthAdjust="spacingAndGlyphs">10<tspan dy="-6.00" font-size="11.20">5</tspan><tspan dy="6.00"></tspan></text>
<line x1="333.30" y1="368.00" x2="341.00" y2="368.00" stroke="#bb3048" stroke-width="1.1"/>
<circle cx="337.10" cy="368.00" r="1.7" fill="#a8162f"/>
<text transform="translate(343.90,368.00) rotate(0.03) scale(0.25)" y="6.62" font-size="18.40" fill="#333" textLength="80.80" lengthAdjust="spacingAndGlyphs">Control BM</text>
<text transform="translate(343.90,374.00) rotate(0.03) scale(0.25)" y="6.62" font-size="18.40" fill="#333" textLength="79.60" lengthAdjust="spacingAndGlyphs">1 in 60,030</text>
<line x1="333.30" y1="381.00" x2="341.00" y2="381.00" stroke="#42639a" stroke-width="1.1"/>
<rect x="335.60" y="379.50" width="3.0" height="3.0" fill="#2a4f86"/>
<text transform="translate(343.90,381.00) rotate(0.03) scale(0.25)" y="6.62" font-size="18.40" fill="#333" textLength="88.40" lengthAdjust="spacingAndGlyphs">Warfarin BM</text>
<text transform="translate(343.90,387.10) rotate(0.03) scale(0.25)" y="6.62" font-size="18.40" fill="#333" textLength="86.40" lengthAdjust="spacingAndGlyphs">1 in 456,950</text>
<line x1="250.50" y1="366.30" x2="250.50" y2="463.80" stroke="#1e1e1e" stroke-width="1.1"/>
<line x1="248.30" y1="380.50" x2="250.50" y2="380.50" stroke="#1e1e1e" stroke-width="0.9"/>
<text transform="translate(245.50,380.50) scale(0.25)" y="7.20" font-size="20.00" fill="#2e2e2e" text-anchor="end" stroke="#2e2e2e" stroke-width="0.40">100</text>
<line x1="248.30" y1="415.60" x2="250.50" y2="415.60" stroke="#1e1e1e" stroke-width="0.9"/>
<text transform="translate(245.50,415.60) scale(0.25)" y="7.20" font-size="20.00" fill="#2e2e2e" text-anchor="end" stroke="#2e2e2e" stroke-width="0.40">50</text>
<line x1="248.30" y1="450.80" x2="250.50" y2="450.80" stroke="#1e1e1e" stroke-width="0.9"/>
<text transform="translate(245.50,450.80) scale(0.25)" y="7.20" font-size="20.00" fill="#2e2e2e" text-anchor="end" stroke="#2e2e2e" stroke-width="0.40">0</text>
<line x1="250.50" y1="450.80" x2="377.50" y2="450.80" stroke="#1e1e1e" stroke-width="1.1"/>
<line x1="292.20" y1="450.80" x2="292.20" y2="453.00" stroke="#1e1e1e" stroke-width="0.9"/>
<text transform="translate(292.20,460.60) scale(0.25)" y="7.20" font-size="20.00" fill="#2e2e2e" text-anchor="middle" stroke="#2e2e2e" stroke-width="0.40">200000</text>
<line x1="333.90" y1="450.80" x2="333.90" y2="453.00" stroke="#1e1e1e" stroke-width="0.9"/>
<text transform="translate(333.90,460.60) scale(0.25)" y="7.20" font-size="20.00" fill="#2e2e2e" text-anchor="middle" stroke="#2e2e2e" stroke-width="0.40">400000</text>
<line x1="375.60" y1="450.80" x2="375.60" y2="453.00" stroke="#1e1e1e" stroke-width="0.9"/>
<text transform="translate(375.60,460.60) scale(0.25)" y="7.20" font-size="20.00" fill="#2e2e2e" text-anchor="middle" stroke="#2e2e2e" stroke-width="0.40">600000</text>
<text transform="translate(228.40,416.00) rotate(-90) scale(0.25)" y="10.94" font-size="30.40" fill="#111" text-anchor="middle" textLength="310.00" lengthAdjust="spacingAndGlyphs" stroke="#111" stroke-width="0.48">Non-engrafting mice (%)</text>
<text transform="translate(314.50,470.50) rotate(0.03) scale(0.25)" y="10.94" font-size="30.40" fill="#111" text-anchor="middle" textLength="116.00" lengthAdjust="spacingAndGlyphs" stroke="#111" stroke-width="0.48">Cell dose</text>
<line x1="250.50" y1="392.00" x2="354.50" y2="411.30" stroke="#42639a" stroke-width="1.05"/>
<line x1="250.50" y1="406.30" x2="354.50" y2="457.00" stroke="#bb3048" stroke-width="1.05"/>
<rect x="248.50" y="378.50" width="4.0" height="4.0" fill="#2a4f86"/>
<rect x="251.30" y="392.50" width="4.0" height="4.0" fill="#2a4f86"/>
<rect x="261.00" y="392.50" width="4.0" height="4.0" fill="#2a4f86"/>
<rect x="274.80" y="406.80" width="4.0" height="4.0" fill="#2a4f86"/>
<rect x="352.40" y="406.80" width="4.0" height="4.0" fill="#2a4f86"/>
<circle cx="253.30" cy="408.80" r="1.9" fill="#a8162f"/>
<circle cx="263.00" cy="422.90" r="1.9" fill="#a8162f"/>
<circle cx="276.80" cy="436.90" r="1.9" fill="#a8162f"/>
<circle cx="354.40" cy="451.00" r="1.9" fill="#a8162f"/>
<text transform="translate(359.30,429.30) rotate(0.03) scale(0.25)" y="5.90" font-size="16.40" fill="#555" text-anchor="middle">P = 0.0006</text>
<text transform="translate(11.56,500.18) scale(0.736,1)" font-size="11.60" fill="#161616">J</text>
<rect x="24.10" y="520.30" width="26.40" height="13.20" fill="#ebebeb"/>
<path d="M19.30,514.50 H24.10 V533.50 H50.50 V514.50 H55.30" stroke="#333" stroke-width="0.8" fill="none"/>
<line x1="24.10" y1="520.30" x2="50.50" y2="520.30" stroke="#333" stroke-width="0.7"/>
<circle cx="29.4" cy="523.9" r="1.7" fill="#e6e6e6" stroke="#333" stroke-width="0.75"/>
<circle cx="29.40" cy="523.90" r="0.85" fill="#c41f3c"/>
<circle cx="44.3" cy="524.3" r="1.7" fill="#e6e6e6" stroke="#333" stroke-width="0.75"/>
<circle cx="44.30" cy="524.30" r="0.85" fill="#c41f3c"/>
<circle cx="33.0" cy="529.9" r="1.7" fill="#e6e6e6" stroke="#333" stroke-width="0.75"/>
<circle cx="33.00" cy="529.90" r="0.85" fill="#c41f3c"/>
<circle cx="40.2" cy="528.7" r="1.7" fill="#e6e6e6" stroke="#333" stroke-width="0.75"/>
<circle cx="40.20" cy="528.70" r="0.85" fill="#c41f3c"/>
<text transform="translate(23.10,539.00) rotate(0.03) scale(0.25)" y="6.34" font-size="17.60" fill="#3a3a3a" textLength="102.00" lengthAdjust="spacingAndGlyphs">Culture of Lin-</text>
<text transform="translate(23.10,544.20) rotate(0.03) scale(0.25)" y="6.34" font-size="17.60" fill="#3a3a3a" textLength="156.00" lengthAdjust="spacingAndGlyphs">BM cells in vehicle- or</text>
<text transform="translate(23.10,549.60) rotate(0.03) scale(0.25)" y="6.34" font-size="17.60" fill="#3a3a3a" textLength="142.40" lengthAdjust="spacingAndGlyphs">warfarin-containing</text>
<text transform="translate(23.10,555.00) rotate(0.03) scale(0.25)" y="6.34" font-size="17.60" fill="#3a3a3a" textLength="62.80" lengthAdjust="spacingAndGlyphs">medium</text>
<line x1="37.40" y1="560.50" x2="37.40" y2="592.00" stroke="#111" stroke-width="1.0"/>
<path d="M37.4,596.8 L35.2,590.8 L37.4,592.2 L39.6,590.8Z" fill="#111"/>
<rect x="23.30" y="605.30" width="25.60" height="13.70" fill="#f1f1f1"/>
<path d="M18.00,600.40 H23.30 V619.00 H48.90 V600.40 H54.20" stroke="#333" stroke-width="0.8" fill="none"/>
<line x1="23.30" y1="605.30" x2="48.90" y2="605.30" stroke="#333" stroke-width="0.7"/>
<circle cx="27.60" cy="608.40" r="1.15" fill="#a8162f"/>
<circle cx="29.10" cy="609.90" r="1.15" fill="#a8162f"/>
<circle cx="27.10" cy="611.40" r="1.15" fill="#a8162f"/>
<circle cx="30.60" cy="610.40" r="1.15" fill="#a8162f"/>
<circle cx="27.80" cy="607.10" r="1.15" fill="#a8162f"/>
<circle cx="35.90" cy="608.60" r="1.15" fill="#a8162f"/>
<circle cx="38.50" cy="607.90" r="1.15" fill="#a8162f"/>
<circle cx="42.90" cy="607.40" r="1.15" fill="#a8162f"/>
<circle cx="45.90" cy="606.90" r="1.15" fill="#a8162f"/>
<circle cx="42.50" cy="610.40" r="1.15" fill="#a8162f"/>
<circle cx="46.50" cy="609.40" r="1.15" fill="#a8162f"/>
<circle cx="36.60" cy="613.90" r="1.15" fill="#a8162f"/>
<circle cx="39.10" cy="615.40" r="1.15" fill="#a8162f"/>
<circle cx="37.10" cy="616.40" r="1.15" fill="#a8162f"/>
<circle cx="40.10" cy="614.40" r="1.15" fill="#a8162f"/>
<text transform="translate(35.70,624.60) rotate(0.03) scale(0.25)" y="6.62" font-size="18.40" fill="#444" text-anchor="middle" textLength="72.80" lengthAdjust="spacingAndGlyphs">CFU-assay</text>
<line x1="100.40" y1="547.00" x2="100.40" y2="618.60" stroke="#1e1e1e" stroke-width="1.1"/>
<line x1="97.40" y1="549.80" x2="100.40" y2="549.80" stroke="#1e1e1e" stroke-width="0.9"/>
<text transform="translate(94.40,549.80) scale(0.25)" y="6.91" font-size="19.20" fill="#2e2e2e" text-anchor="end" stroke="#2e2e2e" stroke-width="0.40">280</text>
<line x1="97.40" y1="563.70" x2="100.40" y2="563.70" stroke="#1e1e1e" stroke-width="0.9"/>
<text transform="translate(94.40,563.70) scale(0.25)" y="6.91" font-size="19.20" fill="#2e2e2e" text-anchor="end" stroke="#2e2e2e" stroke-width="0.40">260</text>
<line x1="97.40" y1="577.40" x2="100.40" y2="577.40" stroke="#1e1e1e" stroke-width="0.9"/>
<text transform="translate(94.40,577.40) scale(0.25)" y="6.91" font-size="19.20" fill="#2e2e2e" text-anchor="end" stroke="#2e2e2e" stroke-width="0.40">240</text>
<line x1="97.40" y1="591.20" x2="100.40" y2="591.20" stroke="#1e1e1e" stroke-width="0.9"/>
<text transform="translate(94.40,591.20) scale(0.25)" y="6.91" font-size="19.20" fill="#2e2e2e" text-anchor="end" stroke="#2e2e2e" stroke-width="0.40">220</text>
<line x1="97.40" y1="604.90" x2="100.40" y2="604.90" stroke="#1e1e1e" stroke-width="0.9"/>
<text transform="translate(94.40,604.90) scale(0.25)" y="6.91" font-size="19.20" fill="#2e2e2e" text-anchor="end" stroke="#2e2e2e" stroke-width="0.40">200</text>
<line x1="97.40" y1="618.60" x2="100.40" y2="618.60" stroke="#1e1e1e" stroke-width="0.9"/>
<text transform="translate(94.40,618.60) scale(0.25)" y="6.91" font-size="19.20" fill="#2e2e2e" text-anchor="end" stroke="#2e2e2e" stroke-width="0.40">180</text>
<line x1="100.40" y1="618.60" x2="141.30" y2="618.60" stroke="#1e1e1e" stroke-width="1.1"/>
<line x1="112.20" y1="618.60" x2="112.20" y2="620.60" stroke="#1e1e1e" stroke-width="0.9"/>
<line x1="130.20" y1="618.60" x2="130.20" y2="620.60" stroke="#1e1e1e" stroke-width="0.9"/>
<text transform="translate(80.00,582.50) rotate(-90) scale(0.25)" y="10.94" font-size="30.40" fill="#111" text-anchor="middle" textLength="248.00" lengthAdjust="spacingAndGlyphs" stroke="#111" stroke-width="0.48">Number of colonies</text>
<text transform="translate(114.00,625.80) rotate(-45) scale(0.25)" y="7.63" font-size="21.20" fill="#222" text-anchor="end" textLength="72.00" lengthAdjust="spacingAndGlyphs">Vehicle</text>
<text transform="translate(131.10,625.30) rotate(-45) scale(0.25)" y="7.63" font-size="21.20" fill="#222" text-anchor="end" textLength="78.80" lengthAdjust="spacingAndGlyphs">Warfarin</text>
<line x1="111.40" y1="559.00" x2="133.10" y2="559.00" stroke="#777" stroke-width="1.3"/>
<text transform="translate(122.25,555.70) rotate(0.03) scale(0.25)" y="5.47" font-size="15.20" fill="#585858" text-anchor="middle">n. s.</text>
<circle cx="110.10" cy="567.00" r="1.60" fill="#a81b38" stroke="#8c0b25" stroke-width="0.55"/>
<circle cx="114.40" cy="569.20" r="1.60" fill="#a81b38" stroke="#8c0b25" stroke-width="0.55"/>
<circle cx="110.30" cy="573.60" r="1.60" fill="#a81b38" stroke="#8c0b25" stroke-width="0.55"/>
<circle cx="114.40" cy="573.90" r="1.60" fill="#a81b38" stroke="#8c0b25" stroke-width="0.55"/>
<circle cx="112.20" cy="584.20" r="1.60" fill="#a81b38" stroke="#8c0b25" stroke-width="0.55"/>
<circle cx="112.20" cy="602.10" r="1.60" fill="#a81b38" stroke="#8c0b25" stroke-width="0.55"/>
<rect x="130.65" y="566.25" width="3.10" height="3.10" fill="#36598f" stroke="#1f3d70" stroke-width="0.55"/>
<rect x="126.25" y="568.75" width="3.10" height="3.10" fill="#36598f" stroke="#1f3d70" stroke-width="0.55"/>
<rect x="126.25" y="575.35" width="3.10" height="3.10" fill="#36598f" stroke="#1f3d70" stroke-width="0.55"/>
<rect x="130.65" y="576.45" width="3.10" height="3.10" fill="#36598f" stroke="#1f3d70" stroke-width="0.55"/>
<rect x="130.65" y="582.65" width="3.10" height="3.10" fill="#36598f" stroke="#1f3d70" stroke-width="0.55"/>
<rect x="126.55" y="585.55" width="3.10" height="3.10" fill="#36598f" stroke="#1f3d70" stroke-width="0.55"/>
<text transform="translate(159.48,499.80) scale(0.877,1)" font-size="11.34" fill="#161616">K</text>
<text transform="translate(180.10,493.80) rotate(0.03) scale(0.25)" y="5.76" font-size="16.00" fill="#333">Day</text>
<text transform="translate(220.10,493.80) scale(0.25)" y="5.76" font-size="16.00" fill="#333" text-anchor="middle">0</text>
<text transform="translate(263.20,493.80) scale(0.25)" y="5.76" font-size="16.00" fill="#333" text-anchor="middle">14</text>
<text transform="translate(284.10,493.80) scale(0.25)" y="5.76" font-size="16.00" fill="#333" text-anchor="middle">21</text>
<text transform="translate(180.10,499.80) rotate(0.03) scale(0.25)" y="5.76" font-size="16.00" fill="#333" textLength="126.40" lengthAdjust="spacingAndGlyphs">Control/Warfarin</text>
<line x1="220.10" y1="499.80" x2="259.70" y2="499.80" stroke="#111" stroke-width="1.0"/>
<path d="M264.50,499.80 L258.70,497.30 L259.90,499.80 L258.70,502.30Z" fill="#111"/>
<text transform="translate(180.10,507.60) rotate(0.03) scale(0.25)" y="5.76" font-size="16.00" fill="#333" textLength="70.80" lengthAdjust="spacingAndGlyphs">Vitamin K</text>
<line x1="220.10" y1="508.40" x2="259.70" y2="508.40" stroke="#111" stroke-width="1.0"/>
<path d="M264.50,508.40 L258.70,505.90 L259.90,508.40 L258.70,510.90Z" fill="#111"/>
<text transform="translate(180.10,513.60) rotate(0.03) scale(0.25)" y="5.76" font-size="16.00" fill="#333" textLength="81.60" lengthAdjust="spacingAndGlyphs">(15 mg/kg)</text>
<text transform="translate(180.10,521.20) rotate(0.03) scale(0.25)" y="5.76" font-size="16.00" fill="#333" textLength="128.40" lengthAdjust="spacingAndGlyphs">5-FU (200mg/kg)</text>
<text transform="translate(180.10,526.70) rotate(0.03) scale(0.25)" y="5.76" font-size="16.00" fill="#333" textLength="65.60" lengthAdjust="spacingAndGlyphs">PB analysis</text>
<path d="M263.20,518.10 L266.10,523.80 L263.20,522.80 L260.30,523.80Z" fill="#111" stroke="#111" stroke-width="0.3" stroke-linejoin="round"/>
<line x1="263.20" y1="522.30" x2="263.20" y2="526.00" stroke="#111" stroke-width="0.9"/>
<path d="M284.10,522.80 L287.00,528.50 L284.10,527.50 L281.20,528.50Z" fill="#111" stroke="#111" stroke-width="0.3" stroke-linejoin="round"/>
<line x1="284.10" y1="527.00" x2="284.10" y2="530.70" stroke="#111" stroke-width="0.9"/>
<line x1="182.90" y1="547.00" x2="182.90" y2="618.50" stroke="#1e1e1e" stroke-width="1.1"/>
<line x1="179.90" y1="549.40" x2="182.90" y2="549.40" stroke="#1e1e1e" stroke-width="0.9"/>
<text transform="translate(176.90,549.40) scale(0.25)" y="6.91" font-size="19.20" fill="#2e2e2e" text-anchor="end" stroke="#2e2e2e" stroke-width="0.40">2.5</text>
<line x1="179.90" y1="563.30" x2="182.90" y2="563.30" stroke="#1e1e1e" stroke-width="0.9"/>
<text transform="translate(176.90,563.30) scale(0.25)" y="6.91" font-size="19.20" fill="#2e2e2e" text-anchor="end" stroke="#2e2e2e" stroke-width="0.40">2.0</text>
<line x1="179.90" y1="577.10" x2="182.90" y2="577.10" stroke="#1e1e1e" stroke-width="0.9"/>
<text transform="translate(176.90,577.10) scale(0.25)" y="6.91" font-size="19.20" fill="#2e2e2e" text-anchor="end" stroke="#2e2e2e" stroke-width="0.40">1.5</text>
<line x1="179.90" y1="591.10" x2="182.90" y2="591.10" stroke="#1e1e1e" stroke-width="0.9"/>
<text transform="translate(176.90,591.10) scale(0.25)" y="6.91" font-size="19.20" fill="#2e2e2e" text-anchor="end" stroke="#2e2e2e" stroke-width="0.40">1.0</text>
<line x1="179.90" y1="604.90" x2="182.90" y2="604.90" stroke="#1e1e1e" stroke-width="0.9"/>
<text transform="translate(176.90,604.90) scale(0.25)" y="6.91" font-size="19.20" fill="#2e2e2e" text-anchor="end" stroke="#2e2e2e" stroke-width="0.40">0.5</text>
<line x1="179.90" y1="618.50" x2="182.90" y2="618.50" stroke="#1e1e1e" stroke-width="0.9"/>
<text transform="translate(176.90,618.50) scale(0.25)" y="6.91" font-size="19.20" fill="#2e2e2e" text-anchor="end" stroke="#2e2e2e" stroke-width="0.40">0.0</text>
<line x1="182.90" y1="618.50" x2="252.40" y2="618.50" stroke="#1e1e1e" stroke-width="1.1"/>
<line x1="193.40" y1="618.50" x2="193.40" y2="620.50" stroke="#1e1e1e" stroke-width="0.9"/>
<line x1="209.50" y1="618.50" x2="209.50" y2="620.50" stroke="#1e1e1e" stroke-width="0.9"/>
<line x1="225.70" y1="618.50" x2="225.70" y2="620.50" stroke="#1e1e1e" stroke-width="0.9"/>
<line x1="241.80" y1="618.50" x2="241.80" y2="620.50" stroke="#1e1e1e" stroke-width="0.9"/>
<text transform="translate(162.30,582.50) rotate(-90) scale(0.25)" y="10.94" font-size="30.40" fill="#111" text-anchor="middle" textLength="310.00" lengthAdjust="spacingAndGlyphs" stroke="#111" stroke-width="0.48">Relative leukocyte count</text>
<text transform="translate(195.40,627.00) rotate(-45) scale(0.25)" y="7.63" font-size="21.20" fill="#222" text-anchor="end" textLength="68.80" lengthAdjust="spacingAndGlyphs">Control</text>
<text transform="translate(208.80,627.30) rotate(-45) scale(0.25)" y="7.63" font-size="21.20" fill="#222" text-anchor="end" textLength="82.00" lengthAdjust="spacingAndGlyphs">Control +</text>
<text transform="translate(213.20,632.00) rotate(-45) scale(0.25)" y="7.63" font-size="21.20" fill="#222" text-anchor="end" textLength="90.00" lengthAdjust="spacingAndGlyphs">vitamin K</text>
<text transform="translate(227.80,627.30) rotate(-45) scale(0.25)" y="7.63" font-size="21.20" fill="#222" text-anchor="end" textLength="78.80" lengthAdjust="spacingAndGlyphs">Warfarin</text>
<text transform="translate(243.00,628.50) rotate(-45) scale(0.25)" y="7.63" font-size="21.20" fill="#222" text-anchor="end" textLength="94.00" lengthAdjust="spacingAndGlyphs">Warfarin +</text>
<text transform="translate(247.60,633.20) rotate(-45) scale(0.25)" y="7.63" font-size="21.20" fill="#222" text-anchor="end" textLength="90.00" lengthAdjust="spacingAndGlyphs">vitamin K</text>
<line x1="190.20" y1="540.50" x2="226.00" y2="540.50" stroke="#333" stroke-width="1.0"/>
<text transform="translate(208.10,536.60) rotate(0.03) scale(0.25)" y="5.47" font-size="15.20" fill="#585858" text-anchor="middle">P = 0.003</text>
<line x1="190.20" y1="549.80" x2="210.00" y2="549.80" stroke="#777" stroke-width="1.5"/>
<text transform="translate(200.10,546.80) rotate(0.03) scale(0.25)" y="5.47" font-size="15.20" fill="#585858" text-anchor="middle">n. s.</text>
<line x1="225.00" y1="581.20" x2="243.60" y2="581.20" stroke="#777" stroke-width="1.3"/>
<text transform="translate(234.30,577.10) rotate(0.03) scale(0.25)" y="5.47" font-size="15.20" fill="#585858" text-anchor="middle">P = 0.02</text>
<circle cx="192.4" cy="583.1" r="1.5" fill="#b5213d" stroke="#9a0f2b" stroke-width="0.65"/>
<circle cx="194.5" cy="584.0" r="1.5" fill="#b5213d" stroke="#9a0f2b" stroke-width="0.65"/>
<circle cx="197.9" cy="586.3" r="1.5" fill="#b5213d" stroke="#9a0f2b" stroke-width="0.65"/>
<circle cx="191.9" cy="587.9" r="1.5" fill="#b5213d" stroke="#9a0f2b" stroke-width="0.65"/>
<circle cx="194.9" cy="588.2" r="1.5" fill="#b5213d" stroke="#9a0f2b" stroke-width="0.65"/>
<circle cx="196.3" cy="587.5" r="1.5" fill="#b5213d" stroke="#9a0f2b" stroke-width="0.65"/>
<circle cx="191.9" cy="591.8" r="1.5" fill="#b5213d" stroke="#9a0f2b" stroke-width="0.65"/>
<circle cx="189.4" cy="597.4" r="1.5" fill="#b5213d" stroke="#9a0f2b" stroke-width="0.65"/>
<circle cx="191.2" cy="596.7" r="1.5" fill="#b5213d" stroke="#9a0f2b" stroke-width="0.65"/>
<circle cx="194.9" cy="596.9" r="1.5" fill="#b5213d" stroke="#9a0f2b" stroke-width="0.65"/>
<circle cx="197.7" cy="596.5" r="1.5" fill="#b5213d" stroke="#9a0f2b" stroke-width="0.65"/>
<circle cx="193.5" cy="596.2" r="1.5" fill="#b5213d" stroke="#9a0f2b" stroke-width="0.65"/>
<rect x="208.40" y="553.20" width="2.80" height="2.80" fill="#36598f" stroke="#1f3d70" stroke-width="0.55"/>
<rect x="208.40" y="559.30" width="2.80" height="2.80" fill="#36598f" stroke="#1f3d70" stroke-width="0.55"/>
<rect x="208.40" y="579.00" width="2.80" height="2.80" fill="#36598f" stroke="#1f3d70" stroke-width="0.55"/>
<rect x="208.40" y="595.60" width="2.80" height="2.80" fill="#36598f" stroke="#1f3d70" stroke-width="0.55"/>
<path d="M225.80,592.07 L227.95,595.93 L223.65,595.93Z" fill="#6cba48"/>
<path d="M221.90,594.27 L224.05,598.13 L219.75,598.13Z" fill="#6cba48"/>
<path d="M229.70,596.97 L231.85,600.83 L227.55,600.83Z" fill="#6cba48"/>
<path d="M222.20,597.87 L224.35,601.73 L220.05,601.73Z" fill="#6cba48"/>
<path d="M225.80,597.07 L227.95,600.93 L223.65,600.93Z" fill="#6cba48"/>
<path d="M229.70,600.57 L231.85,604.43 L227.55,604.43Z" fill="#6cba48"/>
<path d="M225.20,600.87 L227.35,604.73 L223.05,604.73Z" fill="#6cba48"/>
<path d="M225.80,607.47 L227.95,611.33 L223.65,611.33Z" fill="#6cba48"/>
<path d="M242.80,587.43 L244.95,583.57 L240.65,583.57Z" fill="#6a3b7e"/>
<path d="M239.90,588.43 L242.05,584.57 L237.75,584.57Z" fill="#6a3b7e"/>
<path d="M245.70,592.03 L247.85,588.17 L243.55,588.17Z" fill="#6a3b7e"/>
<path d="M237.60,593.33 L239.75,589.47 L235.45,589.47Z" fill="#6a3b7e"/>
<path d="M240.50,592.03 L242.65,588.17 L238.35,588.17Z" fill="#6a3b7e"/>
<path d="M240.50,596.93 L242.65,593.07 L238.35,593.07Z" fill="#6a3b7e"/>
<path d="M243.50,601.53 L245.65,597.67 L241.35,597.67Z" fill="#6a3b7e"/>
<path d="M240.20,603.13 L242.35,599.27 L238.05,599.27Z" fill="#6a3b7e"/>
<path d="M242.20,598.43 L244.35,594.57 L240.05,594.57Z" fill="#6a3b7e"/>
<line x1="53.60" y1="57.70" x2="53.60" y2="79.30" stroke="#161616" stroke-width="1.15"/>
<line x1="48.50" y1="57.70" x2="58.70" y2="57.70" stroke="#161616" stroke-width="1.15"/>
<line x1="48.50" y1="79.30" x2="58.70" y2="79.30" stroke="#161616" stroke-width="1.15"/>
<line x1="43.20" y1="68.40" x2="64.20" y2="68.40" stroke="#0d0d0d" stroke-width="1.4"/>
<line x1="84.80" y1="69.40" x2="84.80" y2="85.30" stroke="#161616" stroke-width="1.15"/>
<line x1="79.70" y1="69.40" x2="89.90" y2="69.40" stroke="#161616" stroke-width="1.15"/>
<line x1="79.70" y1="85.30" x2="89.90" y2="85.30" stroke="#161616" stroke-width="1.15"/>
<line x1="74.20" y1="77.80" x2="95.70" y2="77.80" stroke="#0d0d0d" stroke-width="1.4"/>
<line x1="116.30" y1="77.40" x2="116.30" y2="84.20" stroke="#161616" stroke-width="1.15"/>
<line x1="111.10" y1="77.40" x2="121.50" y2="77.40" stroke="#161616" stroke-width="1.15"/>
<line x1="111.10" y1="84.20" x2="121.50" y2="84.20" stroke="#161616" stroke-width="1.15"/>
<line x1="105.60" y1="80.90" x2="126.90" y2="80.90" stroke="#0d0d0d" stroke-width="1.4"/>
<line x1="202.20" y1="58.30" x2="202.20" y2="78.30" stroke="#161616" stroke-width="1.15"/>
<line x1="196.90" y1="58.30" x2="207.50" y2="58.30" stroke="#161616" stroke-width="1.15"/>
<line x1="196.90" y1="78.30" x2="207.50" y2="78.30" stroke="#161616" stroke-width="1.15"/>
<line x1="192.00" y1="68.10" x2="212.80" y2="68.10" stroke="#0d0d0d" stroke-width="1.4"/>
<line x1="233.60" y1="74.30" x2="233.60" y2="84.00" stroke="#161616" stroke-width="1.15"/>
<line x1="229.10" y1="74.30" x2="238.10" y2="74.30" stroke="#161616" stroke-width="1.15"/>
<line x1="229.10" y1="84.00" x2="238.10" y2="84.00" stroke="#161616" stroke-width="1.15"/>
<line x1="223.20" y1="79.30" x2="244.00" y2="79.30" stroke="#0d0d0d" stroke-width="1.4"/>
<line x1="264.50" y1="76.20" x2="264.50" y2="88.10" stroke="#161616" stroke-width="1.15"/>
<line x1="259.60" y1="76.20" x2="269.40" y2="76.20" stroke="#161616" stroke-width="1.15"/>
<line x1="259.60" y1="88.10" x2="269.40" y2="88.10" stroke="#161616" stroke-width="1.15"/>
<line x1="254.30" y1="82.10" x2="275.10" y2="82.10" stroke="#0d0d0d" stroke-width="1.4"/>
<line x1="338.30" y1="48.20" x2="338.30" y2="70.50" stroke="#161616" stroke-width="1.15"/>
<line x1="335.70" y1="48.20" x2="340.90" y2="48.20" stroke="#161616" stroke-width="1.15"/>
<line x1="335.70" y1="70.50" x2="340.90" y2="70.50" stroke="#161616" stroke-width="1.15"/>
<line x1="332.90" y1="59.40" x2="343.10" y2="59.40" stroke="#0d0d0d" stroke-width="1.4"/>
<line x1="353.50" y1="65.10" x2="353.50" y2="88.20" stroke="#161616" stroke-width="1.15"/>
<line x1="350.90" y1="65.10" x2="356.10" y2="65.10" stroke="#161616" stroke-width="1.15"/>
<line x1="350.90" y1="88.20" x2="356.10" y2="88.20" stroke="#161616" stroke-width="1.15"/>
<line x1="348.40" y1="76.70" x2="358.50" y2="76.70" stroke="#0d0d0d" stroke-width="1.4"/>
<line x1="482.20" y1="62.50" x2="482.20" y2="84.10" stroke="#161616" stroke-width="1.15"/>
<line x1="479.90" y1="62.50" x2="484.50" y2="62.50" stroke="#161616" stroke-width="1.15"/>
<line x1="479.90" y1="84.10" x2="484.50" y2="84.10" stroke="#161616" stroke-width="1.15"/>
<line x1="478.10" y1="73.20" x2="486.30" y2="73.20" stroke="#0d0d0d" stroke-width="1.4"/>
<line x1="502.50" y1="83.50" x2="502.50" y2="88.50" stroke="#161616" stroke-width="1.15"/>
<line x1="500.50" y1="83.50" x2="504.50" y2="83.50" stroke="#161616" stroke-width="1.15"/>
<line x1="500.50" y1="88.50" x2="504.50" y2="88.50" stroke="#161616" stroke-width="1.15"/>
<line x1="498.40" y1="85.80" x2="506.60" y2="85.80" stroke="#0d0d0d" stroke-width="1.4"/>
<line x1="44.50" y1="220.30" x2="44.50" y2="249.10" stroke="#161616" stroke-width="1.15"/>
<line x1="41.30" y1="220.30" x2="47.70" y2="220.30" stroke="#161616" stroke-width="1.15"/>
<line x1="41.30" y1="249.10" x2="47.70" y2="249.10" stroke="#161616" stroke-width="1.15"/>
<line x1="39.30" y1="234.90" x2="50.40" y2="234.90" stroke="#0d0d0d" stroke-width="1.4"/>
<line x1="61.80" y1="245.60" x2="61.80" y2="255.10" stroke="#161616" stroke-width="1.15"/>
<line x1="58.80" y1="245.60" x2="64.80" y2="245.60" stroke="#161616" stroke-width="1.15"/>
<line x1="58.80" y1="255.10" x2="64.80" y2="255.10" stroke="#161616" stroke-width="1.15"/>
<line x1="56.40" y1="250.60" x2="67.80" y2="250.60" stroke="#0d0d0d" stroke-width="1.4"/>
<line x1="112.20" y1="565.10" x2="112.20" y2="591.50" stroke="#161616" stroke-width="1.15"/>
<line x1="109.20" y1="565.10" x2="115.20" y2="565.10" stroke="#161616" stroke-width="1.15"/>
<line x1="109.20" y1="591.50" x2="115.20" y2="591.50" stroke="#161616" stroke-width="1.15"/>
<line x1="106.10" y1="578.30" x2="118.50" y2="578.30" stroke="#0d0d0d" stroke-width="1.4"/>
<line x1="130.20" y1="570.50" x2="130.20" y2="584.50" stroke="#161616" stroke-width="1.15"/>
<line x1="127.70" y1="570.50" x2="132.70" y2="570.50" stroke="#161616" stroke-width="1.15"/>
<line x1="127.70" y1="584.50" x2="132.70" y2="584.50" stroke="#161616" stroke-width="1.15"/>
<line x1="124.30" y1="577.40" x2="136.10" y2="577.40" stroke="#0d0d0d" stroke-width="1.4"/>
<line x1="193.30" y1="585.40" x2="193.30" y2="596.20" stroke="#161616" stroke-width="1.15"/>
<line x1="190.80" y1="585.40" x2="195.80" y2="585.40" stroke="#161616" stroke-width="1.15"/>
<line x1="190.80" y1="596.20" x2="195.80" y2="596.20" stroke="#161616" stroke-width="1.15"/>
<line x1="188.20" y1="590.90" x2="198.80" y2="590.90" stroke="#0d0d0d" stroke-width="1.4"/>
<line x1="209.80" y1="554.10" x2="209.80" y2="592.60" stroke="#161616" stroke-width="1.15"/>
<line x1="207.00" y1="554.10" x2="212.60" y2="554.10" stroke="#161616" stroke-width="1.15"/>
<line x1="207.00" y1="592.60" x2="212.60" y2="592.60" stroke="#161616" stroke-width="1.15"/>
<line x1="204.10" y1="573.40" x2="215.10" y2="573.40" stroke="#0d0d0d" stroke-width="1.4"/>
<line x1="225.80" y1="595.50" x2="225.80" y2="605.10" stroke="#161616" stroke-width="1.15"/>
<line x1="223.30" y1="595.50" x2="228.30" y2="595.50" stroke="#161616" stroke-width="1.15"/>
<line x1="223.30" y1="605.10" x2="228.30" y2="605.10" stroke="#161616" stroke-width="1.15"/>
<line x1="220.20" y1="600.50" x2="231.00" y2="600.50" stroke="#0d0d0d" stroke-width="1.4"/>
<line x1="241.50" y1="587.80" x2="241.50" y2="598.30" stroke="#161616" stroke-width="1.15"/>
<line x1="239.00" y1="587.80" x2="244.00" y2="587.80" stroke="#161616" stroke-width="1.15"/>
<line x1="239.00" y1="598.30" x2="244.00" y2="598.30" stroke="#161616" stroke-width="1.15"/>
<line x1="236.30" y1="593.40" x2="246.70" y2="593.40" stroke="#0d0d0d" stroke-width="1.4"/>
<rect x="0" y="0" width="520" height="1" fill="#474747"/>
<rect x="0" y="1" width="520" height="0.6" fill="#9a9a9a"/>
<rect x="0" y="0" width="1" height="656" fill="#474747"/>
<rect x="1" y="0" width="0.8" height="656" fill="#8a8a8a"/>
<rect x="519" y="0" width="1" height="656" fill="#000"/>
<rect x="0" y="654" width="520" height="1" fill="#8a8a8a"/>
<rect x="0" y="655" width="520" height="1" fill="#4a4a4a"/>
</svg>
</body></html>
